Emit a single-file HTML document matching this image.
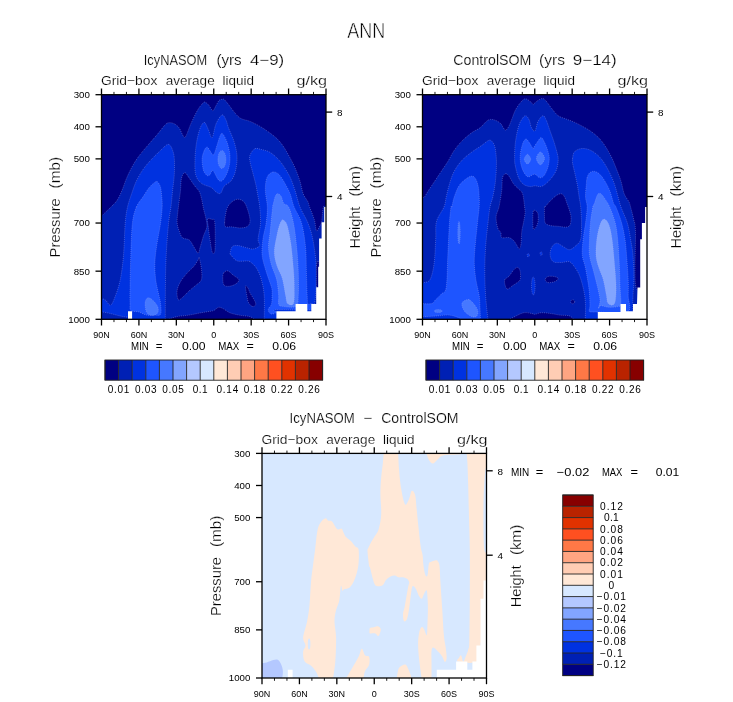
<!DOCTYPE html>
<html><head><meta charset="utf-8"><style>
html,body{margin:0;padding:0;background:#fff;}
svg{display:block;will-change:transform;}
</style></head><body>
<svg width="733" height="702" viewBox="0 0 733 702" font-family="Liberation Sans, sans-serif">
<rect width="733" height="702" fill="#fff"/>
<text x="347.2" y="37.7" font-size="21.2" text-anchor="start" fill="#000" textLength="38" lengthAdjust="spacingAndGlyphs" stroke="#fff" stroke-width="0.55">ANN</text>
<clipPath id="clip0_0"><rect x="101.5" y="94.7" width="224.5" height="224.6"/></clipPath>
<g clip-path="url(#clip0_0)"><g transform="translate(0,0)">
<rect x="100" y="93" width="228" height="228" fill="#000082"/><path d="M101.00,320.00C101.00,320.00 101.00,215.00 101.00,215.00C101.00,215.00 102.07,215.27 102.60,215.00C103.13,214.73 102.80,214.73 104.20,213.40C105.60,212.07 108.85,209.18 111.00,207.00C113.15,204.82 115.28,203.03 117.10,200.30C118.92,197.57 120.28,194.37 121.90,190.60C123.52,186.83 124.92,182.00 126.80,177.70C128.68,173.40 131.07,168.55 133.20,164.80C135.33,161.05 137.18,158.42 139.60,155.20C142.02,151.98 144.73,148.98 147.70,145.50C150.67,142.02 154.45,137.78 157.40,134.30C160.35,130.82 163.40,126.53 165.40,124.60C167.40,122.67 167.92,122.83 169.40,122.70C170.88,122.57 172.68,122.95 174.30,123.80C175.92,124.65 177.77,126.05 179.10,127.80C180.43,129.55 181.37,132.68 182.30,134.30C183.23,135.92 183.90,137.65 184.70,137.50C185.50,137.35 186.02,135.82 187.10,133.40C188.18,130.98 189.45,126.88 191.20,123.00C192.95,119.12 195.73,113.32 197.60,110.10C199.47,106.88 201.17,105.03 202.40,103.70C203.63,102.37 203.92,101.83 205.00,102.10C206.08,102.37 207.60,103.87 208.90,105.30C210.20,106.73 211.58,110.70 212.80,110.70C214.02,110.70 215.17,107.00 216.20,105.30C217.23,103.60 218.03,101.50 219.00,100.50C219.97,99.50 221.12,99.45 222.00,99.30C222.88,99.15 223.12,98.60 224.30,99.60C225.48,100.60 227.50,103.28 229.10,105.30C230.70,107.32 232.02,109.55 233.90,111.70C235.78,113.85 237.72,116.58 240.40,118.20C243.08,119.82 246.78,120.07 250.00,121.40C253.22,122.73 256.47,124.33 259.70,126.20C262.93,128.07 266.45,130.45 269.40,132.60C272.35,134.75 275.00,136.68 277.40,139.10C279.80,141.52 281.65,143.88 283.80,147.10C285.95,150.32 288.42,154.92 290.30,158.40C292.18,161.88 293.50,164.25 295.10,168.00C296.70,171.75 298.55,176.60 299.90,180.90C301.25,185.20 301.85,190.30 303.20,193.80C304.55,197.30 306.93,199.70 308.00,201.90C309.07,204.10 308.53,204.00 309.60,207.00C310.67,210.00 313.25,215.93 314.40,219.90C315.55,223.87 315.58,229.85 316.50,230.80C317.42,231.75 319.05,227.03 319.90,225.60C320.75,224.17 321.02,225.30 321.60,222.20C322.18,219.10 322.50,209.53 323.40,207.00C324.30,204.47 327.00,207.00 327.00,207.00C327.00,207.00 327.00,320.00 327.00,320.00C327.00,320.00 101.00,320.00 101.00,320.00Z" fill="#0020b4" stroke="#b4b4f0" stroke-opacity="0.5" stroke-width="0.7" stroke-dasharray="1 1.1"/>
<path d="M184.90,172.70C186.20,172.70 187.65,175.98 189.30,178.20C190.95,180.42 193.15,183.78 194.80,186.00C196.45,188.22 198.10,189.48 199.20,191.50C200.30,193.52 200.67,195.17 201.40,198.10C202.13,201.03 202.87,205.78 203.60,209.10C204.33,212.42 205.25,215.05 205.80,218.00C206.35,220.95 207.27,223.87 206.90,226.80C206.53,229.73 204.70,232.30 203.60,235.60C202.50,238.90 201.22,243.67 200.30,246.60C199.38,249.53 199.20,253.20 198.10,253.20C197.00,253.20 195.17,248.80 193.70,246.60C192.23,244.40 191.15,241.47 189.30,240.00C187.45,238.53 184.27,239.27 182.60,237.80C180.93,236.33 180.22,233.77 179.30,231.20C178.38,228.63 177.28,226.08 177.10,222.40C176.92,218.72 177.65,214.25 178.20,209.10C178.75,203.95 179.85,196.65 180.40,191.50C180.95,186.35 180.75,181.33 181.50,178.20C182.25,175.07 183.60,172.70 184.90,172.70Z" fill="#000082" stroke="#b4b4f0" stroke-opacity="0.5" stroke-width="0.7" stroke-dasharray="1 1.1"/>
<path d="M207.60,219.00C208.22,217.73 210.83,219.07 212.00,219.40C213.17,219.73 214.07,218.23 214.60,221.00C215.13,223.77 215.17,230.92 215.20,236.00C215.23,241.08 215.30,248.83 214.80,251.50C214.30,254.17 213.03,254.25 212.20,252.00C211.37,249.75 210.45,242.17 209.80,238.00C209.15,233.83 208.67,230.17 208.30,227.00C207.93,223.83 206.98,220.27 207.60,219.00Z" fill="#000082" stroke="#b4b4f0" stroke-opacity="0.5" stroke-width="0.7" stroke-dasharray="1 1.1"/>
<path d="M199.20,257.70C199.75,259.17 201.03,265.03 201.40,268.70C201.77,272.37 202.32,276.95 201.40,279.70C200.48,282.45 197.92,283.37 195.90,285.20C193.88,287.03 191.52,288.67 189.30,290.70C187.08,292.73 184.45,295.92 182.60,297.40C180.75,298.88 179.12,300.72 178.20,299.60C177.28,298.48 176.73,293.65 177.10,290.70C177.47,287.75 178.73,284.83 180.40,281.90C182.07,278.97 184.88,275.67 187.10,273.10C189.32,270.53 191.87,268.70 193.70,266.50C195.53,264.30 197.18,261.37 198.10,259.90C199.02,258.43 198.65,256.23 199.20,257.70Z" fill="#000082" stroke="#b4b4f0" stroke-opacity="0.5" stroke-width="0.7" stroke-dasharray="1 1.1"/>
<path d="M224.60,222.40C224.78,219.45 225.70,212.42 226.80,209.10C227.90,205.78 229.37,204.15 231.20,202.50C233.03,200.85 235.60,199.20 237.80,199.20C240.00,199.20 242.57,200.12 244.40,202.50C246.23,204.88 247.88,210.18 248.80,213.50C249.72,216.82 250.27,220.18 249.90,222.40C249.53,224.62 248.25,225.88 246.60,226.80C244.95,227.72 242.57,227.90 240.00,227.90C237.43,227.90 233.58,226.98 231.20,226.80C228.82,226.62 226.80,227.53 225.70,226.80C224.60,226.07 224.42,225.35 224.60,222.40Z" fill="#000082" stroke="#b4b4f0" stroke-opacity="0.5" stroke-width="0.7" stroke-dasharray="1 1.1"/>
<path d="M223.50,273.10C224.35,271.63 226.25,270.53 227.90,270.90C229.55,271.27 231.57,273.83 233.40,275.30C235.23,276.77 238.53,278.23 238.90,279.70C239.27,281.17 237.25,283.00 235.60,284.10C233.95,285.20 230.92,286.12 229.00,286.30C227.08,286.48 225.13,286.30 224.10,285.20C223.07,284.10 222.90,281.72 222.80,279.70C222.70,277.68 222.65,274.57 223.50,273.10Z" fill="#000082" stroke="#b4b4f0" stroke-opacity="0.5" stroke-width="0.7" stroke-dasharray="1 1.1"/>
<path d="M245.50,286.30C245.67,284.92 247.23,286.87 248.00,288.00C248.77,289.13 248.97,290.93 250.10,293.10C251.23,295.27 253.88,299.03 254.80,301.00C255.72,302.97 256.00,303.98 255.60,304.90C255.20,305.82 253.58,306.88 252.40,306.50C251.22,306.12 249.40,304.30 248.50,302.60C247.60,300.90 247.50,299.02 247.00,296.30C246.50,293.58 245.33,287.68 245.50,286.30Z" fill="#000082" stroke="#b4b4f0" stroke-opacity="0.5" stroke-width="0.7" stroke-dasharray="1 1.1"/>
<path d="M316.30,266.00C316.75,263.17 318.30,258.47 318.70,262.00C319.10,265.53 319.05,283.00 318.70,287.20C318.35,291.40 317.05,288.57 316.60,287.20C316.15,285.83 316.05,282.53 316.00,279.00C315.95,275.47 315.85,268.83 316.30,266.00Z" fill="#000082" stroke="#b4b4f0" stroke-opacity="0.5" stroke-width="0.7" stroke-dasharray="1 1.1"/>
<path d="M166.90,320.00C166.90,320.00 172.63,317.52 176.30,316.70C179.97,315.88 184.72,315.77 188.90,315.10C193.08,314.43 197.75,313.35 201.40,312.70C205.05,312.05 208.70,311.58 210.80,311.20C212.90,310.82 212.68,311.05 214.00,310.40C215.32,309.75 217.13,307.57 218.70,307.30C220.27,307.03 221.57,307.90 223.40,308.80C225.23,309.70 227.08,311.65 229.70,312.70C232.32,313.75 235.70,314.43 239.10,315.10C242.50,315.77 247.48,315.88 250.10,316.70C252.72,317.52 254.80,320.00 254.80,320.00C254.80,320.00 166.90,320.00 166.90,320.00Z" fill="#000082" stroke="#b4b4f0" stroke-opacity="0.5" stroke-width="0.7" stroke-dasharray="1 1.1"/>
<path d="M101.00,299.00C101.00,299.00 101.80,298.57 102.60,298.80C103.40,299.03 104.45,299.33 105.80,300.40C107.15,301.47 109.08,306.00 110.70,305.20C112.32,304.40 113.90,299.88 115.50,295.60C117.10,291.32 118.97,286.22 120.30,279.50C121.63,272.78 122.68,264.70 123.50,255.30C124.32,245.90 124.53,231.15 125.20,223.10C125.87,215.05 126.43,211.88 127.50,207.00C128.57,202.12 130.12,198.15 131.60,193.80C133.08,189.45 134.52,184.92 136.40,180.90C138.28,176.88 140.48,173.18 142.90,169.70C145.32,166.22 147.95,163.23 150.90,160.00C153.85,156.77 157.92,152.85 160.60,150.30C163.28,147.75 165.40,145.50 167.00,144.70C168.60,143.90 169.27,144.57 170.20,145.50C171.13,146.43 171.92,148.15 172.60,150.30C173.28,152.45 174.02,154.37 174.30,158.40C174.58,162.43 174.58,169.13 174.30,174.50C174.02,179.87 173.15,185.23 172.60,190.60C172.05,195.97 171.67,201.28 171.00,206.70C170.33,212.12 169.40,215.00 168.60,223.10C167.80,231.20 166.73,244.57 166.20,255.30C165.67,266.03 165.55,276.72 165.40,287.50C165.25,298.28 165.30,320.00 165.30,320.00C165.30,320.00 130.80,320.00 130.80,320.00C130.80,320.00 130.33,318.18 128.50,317.50C126.67,316.82 122.82,316.57 119.80,315.90C116.78,315.23 113.27,314.15 110.40,313.50C107.53,312.85 104.17,312.25 102.60,312.00C101.03,311.75 101.00,312.00 101.00,312.00C101.00,312.00 101.00,299.00 101.00,299.00Z" fill="#0032e0" stroke="#b4b4f0" stroke-opacity="0.5" stroke-width="0.7" stroke-dasharray="1 1.1"/>
<path d="M205.00,122.80C206.07,123.77 207.32,127.52 208.50,130.00C209.68,132.48 210.85,138.70 212.10,137.70C213.35,136.70 214.35,127.78 216.00,124.00C217.65,120.22 220.33,115.67 222.00,115.00C223.67,114.33 224.92,117.87 226.00,120.00C227.08,122.13 227.13,124.13 228.50,127.80C229.87,131.47 232.78,137.25 234.20,142.00C235.62,146.75 236.77,151.55 237.00,156.30C237.23,161.05 236.55,166.47 235.60,170.50C234.65,174.53 233.20,177.88 231.30,180.50C229.40,183.12 225.98,184.07 224.20,186.20C222.42,188.33 221.97,192.33 220.60,193.30C219.23,194.27 217.53,192.95 216.00,192.00C214.47,191.05 213.83,189.05 211.40,187.60C208.97,186.15 204.02,185.43 201.40,183.30C198.78,181.17 196.77,178.83 195.70,174.80C194.63,170.77 194.88,164.33 195.00,159.10C195.12,153.87 195.68,148.15 196.40,143.40C197.12,138.65 198.35,133.80 199.30,130.60C200.25,127.40 201.15,125.50 202.10,124.20C203.05,122.90 203.93,121.83 205.00,122.80Z" fill="#0032e0" stroke="#b4b4f0" stroke-opacity="0.5" stroke-width="0.7" stroke-dasharray="1 1.1"/>
<path d="M254.90,148.70C256.78,147.75 258.88,148.95 261.30,149.50C263.72,150.05 266.72,150.52 269.40,152.00C272.08,153.48 275.00,156.00 277.40,158.40C279.80,160.80 281.65,163.18 283.80,166.40C285.95,169.62 288.42,173.67 290.30,177.70C292.18,181.73 293.48,185.72 295.10,190.60C296.72,195.48 297.85,201.58 300.00,207.00C302.15,212.42 305.87,217.73 308.00,223.10C310.13,228.47 311.47,232.48 312.80,239.20C314.13,245.92 315.47,255.35 316.00,263.40C316.53,271.45 316.27,280.80 316.00,287.50C315.73,294.20 315.18,300.85 314.40,303.60C313.62,306.35 311.82,301.27 311.30,304.00C310.78,306.73 311.30,320.00 311.30,320.00C311.30,320.00 264.20,320.00 264.20,320.00C264.20,320.00 264.68,302.35 264.20,295.60C263.72,288.85 262.58,284.07 261.30,279.50C260.02,274.93 258.38,271.17 256.50,268.20C254.62,265.23 251.65,262.90 250.00,261.70C248.35,260.50 248.73,261.13 246.60,261.00C244.47,260.87 239.77,261.83 237.20,260.90C234.63,259.97 232.38,256.68 231.20,255.40C230.02,254.12 229.92,254.67 230.10,253.20C230.28,251.73 231.02,247.88 232.30,246.60C233.58,245.32 235.42,245.32 237.80,245.50C240.18,245.68 244.02,247.13 246.60,247.70C249.18,248.27 251.12,249.25 253.30,248.90C255.48,248.55 258.90,247.22 259.70,245.60C260.50,243.98 257.97,242.95 258.10,239.20C258.23,235.45 260.23,228.47 260.50,223.10C260.77,217.73 260.10,211.35 259.70,207.00C259.30,202.65 258.77,200.80 258.10,197.00C257.43,193.20 256.65,188.48 255.70,184.20C254.75,179.92 253.35,175.07 252.40,171.30C251.45,167.53 250.40,164.28 250.00,161.60C249.60,158.92 249.18,157.35 250.00,155.20C250.82,153.05 253.02,149.65 254.90,148.70Z" fill="#0032e0" stroke="#b4b4f0" stroke-opacity="0.5" stroke-width="0.7" stroke-dasharray="1 1.1"/>
<path d="M136.40,207.00C138.15,202.65 140.75,200.27 142.90,197.00C145.05,193.73 147.17,189.95 149.30,187.40C151.43,184.85 154.23,182.52 155.70,181.70C157.17,180.88 157.28,181.55 158.10,182.50C158.92,183.45 159.98,184.98 160.60,187.40C161.22,189.82 161.53,193.73 161.80,197.00C162.07,200.27 162.40,202.65 162.20,207.00C162.00,211.35 161.55,216.38 160.60,223.10C159.65,229.82 157.45,240.58 156.50,247.30C155.55,254.02 155.03,258.03 154.90,263.40C154.77,268.77 155.02,274.13 155.70,279.50C156.38,284.87 158.18,291.58 159.00,295.60C159.82,299.62 160.33,300.48 160.60,303.60C160.87,306.72 161.65,312.38 160.60,314.30C159.55,316.22 156.65,314.97 154.30,315.10C151.95,315.23 149.10,315.62 146.50,315.10C143.90,314.58 141.32,312.78 138.70,312.00C136.08,311.22 132.25,311.80 130.80,310.40C129.35,309.00 130.13,307.42 130.00,303.60C129.87,299.78 129.87,295.55 130.00,287.50C130.13,279.45 130.40,266.03 130.80,255.30C131.20,244.57 131.47,231.15 132.40,223.10C133.33,215.05 134.65,211.35 136.40,207.00Z" fill="#1e55ff" stroke="#b4b4f0" stroke-opacity="0.5" stroke-width="0.7" stroke-dasharray="1 1.1"/>
<path d="M222.50,133.70C223.68,134.65 225.77,138.48 227.00,142.00C228.23,145.52 229.53,150.77 229.90,154.80C230.27,158.83 229.92,162.63 229.20,166.20C228.48,169.77 226.92,173.70 225.60,176.20C224.28,178.70 222.60,180.73 221.30,181.20C220.00,181.67 219.22,180.78 217.80,179.00C216.38,177.22 214.12,171.20 212.80,170.50C211.48,169.80 210.85,173.97 209.90,174.80C208.95,175.63 208.17,176.22 207.10,175.50C206.03,174.78 204.33,173.23 203.50,170.50C202.67,167.77 201.98,162.42 202.10,159.10C202.22,155.78 203.37,152.62 204.20,150.60C205.03,148.58 206.15,147.00 207.10,147.00C208.05,147.00 208.83,149.30 209.90,150.60C210.97,151.90 212.30,155.75 213.50,154.80C214.70,153.85 216.03,147.98 217.10,144.90C218.17,141.82 219.00,138.17 219.90,136.30C220.80,134.43 221.32,132.75 222.50,133.70Z" fill="#1e55ff" stroke="#b4b4f0" stroke-opacity="0.5" stroke-width="0.7" stroke-dasharray="1 1.1"/>
<path d="M272.60,172.10C274.62,171.57 276.87,172.48 279.00,174.50C281.13,176.52 283.52,180.92 285.40,184.20C287.28,187.48 288.87,190.45 290.30,194.20C291.73,197.95 292.12,201.88 294.00,206.70C295.88,211.52 299.67,216.33 301.60,223.10C303.53,229.87 304.80,239.25 305.60,247.30C306.40,255.35 306.13,263.35 306.40,271.40C306.67,279.45 306.93,290.17 307.20,295.60C307.47,301.03 307.32,302.60 308.00,304.00C308.68,305.40 310.75,303.07 311.30,304.00C311.85,304.93 317.12,308.67 311.30,309.60C305.48,310.53 282.22,309.12 276.40,309.60C270.58,310.08 277.30,311.77 276.40,312.50C275.50,313.23 272.37,314.48 271.00,314.00C269.63,313.52 268.12,311.27 268.20,309.60C268.28,307.93 270.87,306.43 271.50,304.00C272.13,301.57 272.00,297.75 272.00,295.00C272.00,292.25 272.48,291.43 271.50,287.50C270.52,283.57 267.67,276.77 266.10,271.40C264.53,266.03 262.63,260.67 262.10,255.30C261.57,249.93 262.23,244.57 262.90,239.20C263.57,233.83 265.37,228.47 266.10,223.10C266.83,217.73 267.43,212.42 267.30,207.00C267.17,201.58 265.37,195.48 265.30,190.60C265.23,185.72 265.68,180.78 266.90,177.70C268.12,174.62 270.58,172.63 272.60,172.10Z" fill="#1e55ff" stroke="#b4b4f0" stroke-opacity="0.5" stroke-width="0.7" stroke-dasharray="1 1.1"/>
<path d="M147.50,298.00C148.33,297.58 149.33,297.83 150.50,298.50C151.67,299.17 153.28,300.58 154.50,302.00C155.72,303.42 157.22,305.33 157.80,307.00C158.38,308.67 158.47,310.67 158.00,312.00C157.53,313.33 156.33,314.50 155.00,315.00C153.67,315.50 151.42,315.50 150.00,315.00C148.58,314.50 147.30,313.50 146.50,312.00C145.70,310.50 145.37,307.83 145.20,306.00C145.03,304.17 145.12,302.33 145.50,301.00C145.88,299.67 146.67,298.42 147.50,298.00Z" fill="#4678ff" stroke="#b4b4f0" stroke-opacity="0.5" stroke-width="0.7" stroke-dasharray="1 1.1"/>
<path d="M277.40,193.80C278.40,193.63 279.93,194.38 281.00,196.00C282.07,197.62 282.52,201.67 283.80,203.50C285.08,205.33 287.08,203.73 288.70,207.00C290.32,210.27 292.17,216.38 293.50,223.10C294.83,229.82 295.90,239.25 296.70,247.30C297.50,255.35 298.03,263.35 298.30,271.40C298.57,279.45 298.68,289.78 298.30,295.60C297.92,301.42 298.72,304.52 296.00,306.30C293.28,308.08 284.90,306.68 282.00,306.30C279.10,305.92 279.17,305.78 278.60,304.00C278.03,302.22 278.93,299.68 278.60,295.60C278.27,291.52 277.87,284.87 276.60,279.50C275.33,274.13 272.35,268.77 271.00,263.40C269.65,258.03 268.63,252.68 268.50,247.30C268.37,241.92 269.52,237.82 270.20,231.10C270.88,224.38 272.07,211.60 272.60,207.00C273.13,202.40 273.00,205.17 273.40,203.50C273.80,201.83 274.33,198.62 275.00,197.00C275.67,195.38 276.40,193.97 277.40,193.80Z" fill="#4678ff" stroke="#b4b4f0" stroke-opacity="0.5" stroke-width="0.7" stroke-dasharray="1 1.1"/>
<ellipse cx="221.9" cy="159.5" rx="4" ry="9" fill="#4678ff" stroke="#b4b4f0" stroke-opacity="0.5" stroke-width="0.7" stroke-dasharray="1 1.1"/>
<path d="M282.20,220.00C283.12,219.42 284.13,220.50 285.00,221.50C285.87,222.50 286.42,222.35 287.40,226.00C288.38,229.65 289.88,236.15 290.90,243.40C291.92,250.65 292.93,262.25 293.50,269.50C294.07,276.75 294.30,281.25 294.30,286.90C294.30,292.55 294.65,300.65 293.50,303.40C292.35,306.15 288.72,304.70 287.40,303.40C286.08,302.10 286.47,299.80 285.60,295.60C284.73,291.40 283.63,283.13 282.20,278.20C280.77,273.27 278.32,270.35 277.00,266.00C275.68,261.65 274.30,257.30 274.30,252.10C274.30,246.90 276.13,239.32 277.00,234.80C277.87,230.28 278.63,227.47 279.50,225.00C280.37,222.53 281.28,220.58 282.20,220.00Z" fill="#82a5ff" stroke="#b4b4f0" stroke-opacity="0.5" stroke-width="0.7" stroke-dasharray="1 1.1"/>
<polygon points="324.2,207 327,207 327,320 276.4,320 276.4,311.2 295.6,311.2 295.6,304.1 307.3,304.1 307.3,311.2 311.3,311.2 311.3,304.1 316.2,304.1 316.2,287.2 318.2,287.2 318.2,266.7 319.1,266.7 319.1,238.5 321.6,238.5 321.6,222.2 324.2,222.2" fill="#fff"/>
<polygon points="128,311.2 132.1,311.2 132.1,320 128,320" fill="#fff"/>
</g></g>
<rect x="101.5" y="94.7" width="224.5" height="224.6" fill="none" stroke="#000" stroke-width="1.3"/>
<line x1="101.50" y1="319.3" x2="101.50" y2="325.5" stroke="#000" stroke-width="1.3"/>
<line x1="101.50" y1="94.7" x2="101.50" y2="88.5" stroke="#000" stroke-width="1.3"/>
<line x1="113.97" y1="319.3" x2="113.97" y2="322.1" stroke="#000" stroke-width="0.9"/>
<line x1="113.97" y1="94.7" x2="113.97" y2="91.9" stroke="#000" stroke-width="0.9"/>
<line x1="126.44" y1="319.3" x2="126.44" y2="322.1" stroke="#000" stroke-width="0.9"/>
<line x1="126.44" y1="94.7" x2="126.44" y2="91.9" stroke="#000" stroke-width="0.9"/>
<line x1="138.92" y1="319.3" x2="138.92" y2="325.5" stroke="#000" stroke-width="1.3"/>
<line x1="138.92" y1="94.7" x2="138.92" y2="88.5" stroke="#000" stroke-width="1.3"/>
<line x1="151.39" y1="319.3" x2="151.39" y2="322.1" stroke="#000" stroke-width="0.9"/>
<line x1="151.39" y1="94.7" x2="151.39" y2="91.9" stroke="#000" stroke-width="0.9"/>
<line x1="163.86" y1="319.3" x2="163.86" y2="322.1" stroke="#000" stroke-width="0.9"/>
<line x1="163.86" y1="94.7" x2="163.86" y2="91.9" stroke="#000" stroke-width="0.9"/>
<line x1="176.33" y1="319.3" x2="176.33" y2="325.5" stroke="#000" stroke-width="1.3"/>
<line x1="176.33" y1="94.7" x2="176.33" y2="88.5" stroke="#000" stroke-width="1.3"/>
<line x1="188.81" y1="319.3" x2="188.81" y2="322.1" stroke="#000" stroke-width="0.9"/>
<line x1="188.81" y1="94.7" x2="188.81" y2="91.9" stroke="#000" stroke-width="0.9"/>
<line x1="201.28" y1="319.3" x2="201.28" y2="322.1" stroke="#000" stroke-width="0.9"/>
<line x1="201.28" y1="94.7" x2="201.28" y2="91.9" stroke="#000" stroke-width="0.9"/>
<line x1="213.75" y1="319.3" x2="213.75" y2="325.5" stroke="#000" stroke-width="1.3"/>
<line x1="213.75" y1="94.7" x2="213.75" y2="88.5" stroke="#000" stroke-width="1.3"/>
<line x1="226.22" y1="319.3" x2="226.22" y2="322.1" stroke="#000" stroke-width="0.9"/>
<line x1="226.22" y1="94.7" x2="226.22" y2="91.9" stroke="#000" stroke-width="0.9"/>
<line x1="238.69" y1="319.3" x2="238.69" y2="322.1" stroke="#000" stroke-width="0.9"/>
<line x1="238.69" y1="94.7" x2="238.69" y2="91.9" stroke="#000" stroke-width="0.9"/>
<line x1="251.17" y1="319.3" x2="251.17" y2="325.5" stroke="#000" stroke-width="1.3"/>
<line x1="251.17" y1="94.7" x2="251.17" y2="88.5" stroke="#000" stroke-width="1.3"/>
<line x1="263.64" y1="319.3" x2="263.64" y2="322.1" stroke="#000" stroke-width="0.9"/>
<line x1="263.64" y1="94.7" x2="263.64" y2="91.9" stroke="#000" stroke-width="0.9"/>
<line x1="276.11" y1="319.3" x2="276.11" y2="322.1" stroke="#000" stroke-width="0.9"/>
<line x1="276.11" y1="94.7" x2="276.11" y2="91.9" stroke="#000" stroke-width="0.9"/>
<line x1="288.58" y1="319.3" x2="288.58" y2="325.5" stroke="#000" stroke-width="1.3"/>
<line x1="288.58" y1="94.7" x2="288.58" y2="88.5" stroke="#000" stroke-width="1.3"/>
<line x1="301.06" y1="319.3" x2="301.06" y2="322.1" stroke="#000" stroke-width="0.9"/>
<line x1="301.06" y1="94.7" x2="301.06" y2="91.9" stroke="#000" stroke-width="0.9"/>
<line x1="313.53" y1="319.3" x2="313.53" y2="322.1" stroke="#000" stroke-width="0.9"/>
<line x1="313.53" y1="94.7" x2="313.53" y2="91.9" stroke="#000" stroke-width="0.9"/>
<line x1="326.00" y1="319.3" x2="326.00" y2="325.5" stroke="#000" stroke-width="1.3"/>
<line x1="326.00" y1="94.7" x2="326.00" y2="88.5" stroke="#000" stroke-width="1.3"/>
<line x1="95.5" y1="94.70" x2="101.5" y2="94.70" stroke="#000" stroke-width="1.3"/>
<line x1="95.5" y1="126.79" x2="101.5" y2="126.79" stroke="#000" stroke-width="1.3"/>
<line x1="95.5" y1="158.87" x2="101.5" y2="158.87" stroke="#000" stroke-width="1.3"/>
<line x1="95.5" y1="223.04" x2="101.5" y2="223.04" stroke="#000" stroke-width="1.3"/>
<line x1="95.5" y1="271.17" x2="101.5" y2="271.17" stroke="#000" stroke-width="1.3"/>
<line x1="95.5" y1="319.30" x2="101.5" y2="319.30" stroke="#000" stroke-width="1.3"/>
<line x1="326.0" y1="112.10" x2="332.2" y2="112.10" stroke="#000" stroke-width="1.3"/>
<line x1="326.0" y1="196.50" x2="332.2" y2="196.50" stroke="#000" stroke-width="1.3"/>
<text x="89.9" y="98.1" font-size="9.7" text-anchor="end" fill="#000">300</text>
<text x="89.9" y="130.19" font-size="9.7" text-anchor="end" fill="#000">400</text>
<text x="89.9" y="162.27" font-size="9.7" text-anchor="end" fill="#000">500</text>
<text x="89.9" y="226.44" font-size="9.7" text-anchor="end" fill="#000">700</text>
<text x="89.9" y="274.57" font-size="9.7" text-anchor="end" fill="#000">850</text>
<text x="89.9" y="322.7" font-size="9.7" text-anchor="end" fill="#000">1000</text>
<text x="101.5" y="338.1" font-size="9.0" text-anchor="middle" fill="#000">90N</text>
<text x="138.92" y="338.1" font-size="9.0" text-anchor="middle" fill="#000">60N</text>
<text x="176.33" y="338.1" font-size="9.0" text-anchor="middle" fill="#000">30N</text>
<text x="213.75" y="338.1" font-size="9.0" text-anchor="middle" fill="#000">0</text>
<text x="251.17" y="338.1" font-size="9.0" text-anchor="middle" fill="#000">30S</text>
<text x="288.58" y="338.1" font-size="9.0" text-anchor="middle" fill="#000">60S</text>
<text x="326.0" y="338.1" font-size="9.0" text-anchor="middle" fill="#000">90S</text>
<text x="337.0" y="116.0" font-size="9.9" text-anchor="start" fill="#000">8</text>
<text x="337.0" y="199.8" font-size="9.9" text-anchor="start" fill="#000">4</text>
<text x="0" y="0" font-size="14.8" fill="#000" stroke="#fff" stroke-width="0.25" textLength="59.2" lengthAdjust="spacingAndGlyphs" transform="translate(60.10,257.40) rotate(-90)">Pressure</text>
<text x="0" y="0" font-size="14.8" fill="#000" stroke="#fff" stroke-width="0.25" textLength="31.4" lengthAdjust="spacingAndGlyphs" transform="translate(60.10,188.40) rotate(-90)">(mb)</text>
<text x="0" y="0" font-size="14.8" fill="#000" stroke="#fff" stroke-width="0.25" textLength="41.9" lengthAdjust="spacingAndGlyphs" transform="translate(360.30,248.50) rotate(-90)">Height</text>
<text x="0" y="0" font-size="14.8" fill="#000" stroke="#fff" stroke-width="0.25" textLength="30.5" lengthAdjust="spacingAndGlyphs" transform="translate(360.30,196.40) rotate(-90)">(km)</text>
<text x="143.8" y="64.6" font-size="14.5" text-anchor="start" fill="#000" textLength="63.4" lengthAdjust="spacingAndGlyphs" stroke="#fff" stroke-width="0.2">IcyNASOM</text>
<text x="216.4" y="64.6" font-size="14.5" text-anchor="start" fill="#000" textLength="25.3" lengthAdjust="spacingAndGlyphs" stroke="#fff" stroke-width="0.2">(yrs</text>
<text x="250.0" y="64.6" font-size="14.5" text-anchor="start" fill="#000" textLength="34.2" lengthAdjust="spacingAndGlyphs" stroke="#fff" stroke-width="0.2">4&#8722;9)</text>
<text x="100.9" y="85.2" font-size="13.0" text-anchor="start" fill="#000" textLength="56.5" lengthAdjust="spacingAndGlyphs" stroke="#fff" stroke-width="0.2">Grid&#8722;box</text>
<text x="165.7" y="85.2" font-size="13.0" text-anchor="start" fill="#000" textLength="49.0" lengthAdjust="spacingAndGlyphs" stroke="#fff" stroke-width="0.2">average</text>
<text x="222.5" y="85.2" font-size="13.0" text-anchor="start" fill="#000" textLength="31.5" lengthAdjust="spacingAndGlyphs" stroke="#fff" stroke-width="0.2">liquid</text>
<text x="296.5" y="85.2" font-size="13.0" text-anchor="start" fill="#000" textLength="30.5" lengthAdjust="spacingAndGlyphs" stroke="#fff" stroke-width="0.2">g/kg</text>
<text x="421.9" y="85.2" font-size="13.0" text-anchor="start" fill="#000" textLength="56.5" lengthAdjust="spacingAndGlyphs" stroke="#fff" stroke-width="0.2">Grid&#8722;box</text>
<text x="486.7" y="85.2" font-size="13.0" text-anchor="start" fill="#000" textLength="49.0" lengthAdjust="spacingAndGlyphs" stroke="#fff" stroke-width="0.2">average</text>
<text x="543.5" y="85.2" font-size="13.0" text-anchor="start" fill="#000" textLength="31.5" lengthAdjust="spacingAndGlyphs" stroke="#fff" stroke-width="0.2">liquid</text>
<text x="617.5" y="85.2" font-size="13.0" text-anchor="start" fill="#000" textLength="30.5" lengthAdjust="spacingAndGlyphs" stroke="#fff" stroke-width="0.2">g/kg</text>
<text x="261.4" y="443.9" font-size="13.0" text-anchor="start" fill="#000" textLength="56.5" lengthAdjust="spacingAndGlyphs" stroke="#fff" stroke-width="0.2">Grid&#8722;box</text>
<text x="326.2" y="443.9" font-size="13.0" text-anchor="start" fill="#000" textLength="49.0" lengthAdjust="spacingAndGlyphs" stroke="#fff" stroke-width="0.2">average</text>
<text x="383.0" y="443.9" font-size="13.0" text-anchor="start" fill="#000" textLength="31.5" lengthAdjust="spacingAndGlyphs" stroke="#fff" stroke-width="0.2">liquid</text>
<text x="457.0" y="443.9" font-size="13.0" text-anchor="start" fill="#000" textLength="30.5" lengthAdjust="spacingAndGlyphs" stroke="#fff" stroke-width="0.2">g/kg</text>
<rect x="105.00" y="360" width="13.60" height="20.2" fill="#000082"/>
<rect x="118.60" y="360" width="13.60" height="20.2" fill="#0020b4"/>
<rect x="132.20" y="360" width="13.60" height="20.2" fill="#0032e0"/>
<rect x="145.80" y="360" width="13.60" height="20.2" fill="#1e55ff"/>
<rect x="159.40" y="360" width="13.60" height="20.2" fill="#4678ff"/>
<rect x="173.00" y="360" width="13.60" height="20.2" fill="#82a5ff"/>
<rect x="186.60" y="360" width="13.60" height="20.2" fill="#b4c8ff"/>
<rect x="200.20" y="360" width="13.60" height="20.2" fill="#d7e8ff"/>
<rect x="213.80" y="360" width="13.60" height="20.2" fill="#ffe8d7"/>
<rect x="227.40" y="360" width="13.60" height="20.2" fill="#ffcdb4"/>
<rect x="241.00" y="360" width="13.60" height="20.2" fill="#ffa582"/>
<rect x="254.60" y="360" width="13.60" height="20.2" fill="#ff7846"/>
<rect x="268.20" y="360" width="13.60" height="20.2" fill="#ff5020"/>
<rect x="281.80" y="360" width="13.60" height="20.2" fill="#e13200"/>
<rect x="295.40" y="360" width="13.60" height="20.2" fill="#b92300"/>
<rect x="309.00" y="360" width="13.60" height="20.2" fill="#870000"/>
<line x1="105.00" y1="360" x2="105.00" y2="380.2" stroke="#222" stroke-width="0.9"/>
<line x1="118.60" y1="360" x2="118.60" y2="380.2" stroke="#222" stroke-width="0.9"/>
<line x1="132.20" y1="360" x2="132.20" y2="380.2" stroke="#222" stroke-width="0.9"/>
<line x1="145.80" y1="360" x2="145.80" y2="380.2" stroke="#222" stroke-width="0.9"/>
<line x1="159.40" y1="360" x2="159.40" y2="380.2" stroke="#222" stroke-width="0.9"/>
<line x1="173.00" y1="360" x2="173.00" y2="380.2" stroke="#222" stroke-width="0.9"/>
<line x1="186.60" y1="360" x2="186.60" y2="380.2" stroke="#222" stroke-width="0.9"/>
<line x1="200.20" y1="360" x2="200.20" y2="380.2" stroke="#222" stroke-width="0.9"/>
<line x1="213.80" y1="360" x2="213.80" y2="380.2" stroke="#222" stroke-width="0.9"/>
<line x1="227.40" y1="360" x2="227.40" y2="380.2" stroke="#222" stroke-width="0.9"/>
<line x1="241.00" y1="360" x2="241.00" y2="380.2" stroke="#222" stroke-width="0.9"/>
<line x1="254.60" y1="360" x2="254.60" y2="380.2" stroke="#222" stroke-width="0.9"/>
<line x1="268.20" y1="360" x2="268.20" y2="380.2" stroke="#222" stroke-width="0.9"/>
<line x1="281.80" y1="360" x2="281.80" y2="380.2" stroke="#222" stroke-width="0.9"/>
<line x1="295.40" y1="360" x2="295.40" y2="380.2" stroke="#222" stroke-width="0.9"/>
<line x1="309.00" y1="360" x2="309.00" y2="380.2" stroke="#222" stroke-width="0.9"/>
<line x1="322.60" y1="360" x2="322.60" y2="380.2" stroke="#222" stroke-width="0.9"/>
<rect x="105" y="360" width="217.6" height="20.2" fill="none" stroke="#222" stroke-width="0.9"/>
<text x="118.6" y="393.1" font-size="10.0" text-anchor="middle" fill="#000" textLength="21.6" lengthAdjust="spacing">0.01</text>
<text x="145.8" y="393.1" font-size="10.0" text-anchor="middle" fill="#000" textLength="21.6" lengthAdjust="spacing">0.03</text>
<text x="173.0" y="393.1" font-size="10.0" text-anchor="middle" fill="#000" textLength="21.6" lengthAdjust="spacing">0.05</text>
<text x="200.2" y="393.1" font-size="10.0" text-anchor="middle" fill="#000" textLength="14.8" lengthAdjust="spacing">0.1</text>
<text x="227.4" y="393.1" font-size="10.0" text-anchor="middle" fill="#000" textLength="21.6" lengthAdjust="spacing">0.14</text>
<text x="254.6" y="393.1" font-size="10.0" text-anchor="middle" fill="#000" textLength="21.6" lengthAdjust="spacing">0.18</text>
<text x="281.8" y="393.1" font-size="10.0" text-anchor="middle" fill="#000" textLength="21.6" lengthAdjust="spacing">0.22</text>
<text x="309.0" y="393.1" font-size="10.0" text-anchor="middle" fill="#000" textLength="21.6" lengthAdjust="spacing">0.26</text>
<clipPath id="clip321_0"><rect x="422.5" y="94.7" width="224.5" height="224.6"/></clipPath>
<g clip-path="url(#clip321_0)"><g transform="translate(321,0)">
<rect x="100" y="93" width="228" height="228" fill="#000082"/><path d="M101.00,320.00C101.00,320.00 101.00,197.00 101.00,197.00C101.00,197.00 102.33,198.07 103.40,197.00C104.47,195.93 105.65,193.28 107.40,190.60C109.15,187.92 111.75,184.12 113.90,180.90C116.05,177.68 118.15,174.52 120.30,171.30C122.45,168.08 124.65,165.08 126.80,161.60C128.95,158.12 130.78,153.88 133.20,150.40C135.62,146.92 138.35,143.67 141.30,140.70C144.25,137.73 147.95,134.75 150.90,132.60C153.85,130.45 156.58,129.67 159.00,127.80C161.42,125.93 163.67,122.80 165.40,121.40C167.13,120.00 167.78,119.53 169.40,119.40C171.02,119.27 173.35,119.87 175.10,120.60C176.85,121.33 178.70,122.60 179.90,123.80C181.10,125.00 181.50,126.73 182.30,127.80C183.10,128.87 183.77,130.47 184.70,130.20C185.63,129.93 186.82,128.20 187.90,126.20C188.98,124.20 190.12,120.88 191.20,118.20C192.28,115.52 193.07,112.65 194.40,110.10C195.73,107.55 197.60,104.78 199.20,102.90C200.80,101.02 202.38,99.08 204.00,98.80C205.62,98.52 207.55,100.25 208.90,101.20C210.25,102.15 211.42,104.08 212.10,104.50C212.78,104.92 212.18,104.38 213.00,103.70C213.82,103.02 215.52,101.27 217.00,100.40C218.48,99.53 220.42,98.23 221.90,98.50C223.38,98.77 224.43,100.33 225.90,102.00C227.37,103.67 228.82,106.22 230.70,108.50C232.58,110.78 234.78,113.95 237.20,115.70C239.62,117.45 242.52,117.92 245.20,119.00C247.88,120.08 250.62,121.00 253.30,122.20C255.98,123.40 258.62,124.73 261.30,126.20C263.98,127.67 266.72,129.12 269.40,131.00C272.08,132.88 275.00,135.08 277.40,137.50C279.80,139.92 281.65,142.28 283.80,145.50C285.95,148.72 288.42,153.03 290.30,156.80C292.18,160.57 293.50,164.08 295.10,168.10C296.70,172.12 298.55,176.62 299.90,180.90C301.25,185.18 301.85,190.30 303.20,193.80C304.55,197.30 306.93,199.70 308.00,201.90C309.07,204.10 308.80,204.00 309.60,207.00C310.40,210.00 311.98,215.73 312.80,219.90C313.62,224.07 314.15,220.82 314.50,232.00C314.85,243.18 312.82,277.83 314.90,287.00C316.98,296.17 327.00,287.00 327.00,287.00C327.00,287.00 327.00,320.00 327.00,320.00C327.00,320.00 101.00,320.00 101.00,320.00Z" fill="#0020b4" stroke="#b4b4f0" stroke-opacity="0.5" stroke-width="0.7" stroke-dasharray="1 1.1"/>
<path d="M184.70,173.70C185.77,173.43 186.55,174.35 187.90,176.10C189.25,177.85 191.18,182.05 192.80,184.20C194.42,186.35 196.13,187.40 197.60,189.00C199.07,190.60 200.60,190.80 201.60,193.80C202.60,196.80 203.20,203.73 203.60,207.00C204.00,210.27 204.20,210.72 204.00,213.40C203.80,216.08 202.93,220.13 202.40,223.10C201.87,226.07 201.20,227.72 200.80,231.20C200.40,234.68 200.40,241.05 200.00,244.00C199.60,246.95 199.07,248.63 198.40,248.90C197.73,249.17 196.93,246.95 196.00,245.60C195.07,244.25 194.15,242.13 192.80,240.80C191.45,239.47 189.92,238.13 187.90,237.60C185.88,237.07 182.03,238.40 180.70,237.60C179.37,236.80 180.57,234.42 179.90,232.80C179.23,231.18 177.50,230.58 176.70,227.90C175.90,225.22 174.88,220.18 175.10,216.70C175.32,213.22 177.07,211.35 178.00,207.00C178.93,202.65 180.12,195.48 180.70,190.60C181.28,185.72 180.83,180.52 181.50,177.70C182.17,174.88 183.63,173.97 184.70,173.70Z" fill="#000082" stroke="#b4b4f0" stroke-opacity="0.5" stroke-width="0.7" stroke-dasharray="1 1.1"/>
<path d="M212.10,211.80C212.58,208.98 214.18,210.63 215.00,211.00C215.82,211.37 216.67,212.17 217.00,214.00C217.33,215.83 217.42,219.67 217.00,222.00C216.58,224.33 215.32,227.02 214.50,228.00C213.68,228.98 212.50,230.60 212.10,227.90C211.70,225.20 211.62,214.62 212.10,211.80Z" fill="#000082" stroke="#b4b4f0" stroke-opacity="0.5" stroke-width="0.7" stroke-dasharray="1 1.1"/>
<path d="M183.90,279.50C184.58,278.15 186.52,277.82 188.00,276.20C189.48,274.58 191.33,271.27 192.80,269.80C194.27,268.33 195.73,267.13 196.80,267.40C197.87,267.67 198.80,269.38 199.20,271.40C199.60,273.42 199.73,277.62 199.20,279.50C198.67,281.38 197.33,281.63 196.00,282.70C194.67,283.77 192.82,284.83 191.20,285.90C189.58,286.97 187.52,289.37 186.30,289.10C185.08,288.83 184.30,285.90 183.90,284.30C183.50,282.70 183.22,280.85 183.90,279.50Z" fill="#000082" stroke="#b4b4f0" stroke-opacity="0.5" stroke-width="0.7" stroke-dasharray="1 1.1"/>
<path d="M224.30,206.70C225.23,205.72 227.23,202.98 229.10,201.10C230.97,199.22 233.62,196.62 235.50,195.40C237.38,194.18 239.05,193.53 240.40,193.80C241.75,194.07 242.67,195.38 243.60,197.00C244.53,198.62 245.20,201.30 246.00,203.50C246.80,205.70 247.73,208.00 248.40,210.20C249.07,212.40 249.87,214.28 250.00,216.70C250.13,219.12 250.00,222.97 249.20,224.70C248.40,226.43 247.20,226.83 245.20,227.10C243.20,227.37 239.88,226.57 237.20,226.30C234.52,226.03 231.25,226.03 229.10,225.50C226.95,224.97 225.23,224.57 224.30,223.10C223.37,221.63 223.63,219.38 223.50,216.70C223.37,214.02 223.37,208.67 223.50,207.00C223.63,205.33 223.37,207.68 224.30,206.70Z" fill="#000082" stroke="#b4b4f0" stroke-opacity="0.5" stroke-width="0.7" stroke-dasharray="1 1.1"/>
<path d="M224.30,279.00C224.63,278.17 225.55,276.92 227.00,276.50C228.45,276.08 231.30,276.17 233.00,276.50C234.70,276.83 237.03,277.67 237.20,278.50C237.37,279.33 235.53,280.80 234.00,281.50C232.47,282.20 229.50,282.70 228.00,282.70C226.50,282.70 225.62,282.12 225.00,281.50C224.38,280.88 223.97,279.83 224.30,279.00Z" fill="#000082" stroke="#b4b4f0" stroke-opacity="0.5" stroke-width="0.7" stroke-dasharray="1 1.1"/>
<path d="M187.30,320.00C187.30,320.00 192.48,317.12 195.10,315.90C197.72,314.68 200.38,313.10 203.00,312.70C205.62,312.30 208.97,313.23 210.80,313.50C212.63,313.77 212.42,314.43 214.00,314.30C215.58,314.17 217.68,312.83 220.30,312.70C222.92,312.57 226.57,313.10 229.70,313.50C232.83,313.90 235.97,314.70 239.10,315.10C242.23,315.50 246.15,315.08 248.50,315.90C250.85,316.72 253.20,320.00 253.20,320.00C253.20,320.00 187.30,320.00 187.30,320.00Z" fill="#000082" stroke="#b4b4f0" stroke-opacity="0.5" stroke-width="0.7" stroke-dasharray="1 1.1"/>
<ellipse cx="251.7" cy="301.8" rx="2" ry="2" fill="#000082" stroke="#b4b4f0" stroke-opacity="0.5" stroke-width="0.7" stroke-dasharray="1 1.1"/>
<path d="M101.00,283.00C101.00,283.00 101.25,283.28 102.60,282.70C103.95,282.12 107.35,282.72 109.10,279.50C110.85,276.28 112.17,270.12 113.10,263.40C114.03,256.68 114.30,246.18 114.70,239.20C115.10,232.22 114.12,226.87 115.50,221.50C116.88,216.13 121.38,211.08 123.00,207.00C124.62,202.92 124.30,200.80 125.20,197.00C126.10,193.20 127.07,188.48 128.40,184.20C129.73,179.92 131.05,175.33 133.20,171.30C135.35,167.27 138.35,163.22 141.30,160.00C144.25,156.78 147.68,154.42 150.90,152.00C154.12,149.58 157.92,147.38 160.60,145.50C163.28,143.62 165.40,141.50 167.00,140.70C168.60,139.90 169.12,139.90 170.20,140.70C171.28,141.50 172.68,143.08 173.50,145.50C174.32,147.92 174.78,151.72 175.10,155.20C175.42,158.68 175.53,161.85 175.40,166.40C175.27,170.95 174.90,177.40 174.30,182.50C173.70,187.60 172.68,192.92 171.80,197.00C170.92,201.08 169.80,202.65 169.00,207.00C168.20,211.35 167.73,216.38 167.00,223.10C166.27,229.82 165.13,239.25 164.60,247.30C164.07,255.35 163.80,263.35 163.80,271.40C163.80,279.45 164.07,287.50 164.60,295.60C165.13,303.70 167.00,320.00 167.00,320.00C167.00,320.00 101.00,320.00 101.00,320.00C101.00,320.00 101.00,283.00 101.00,283.00Z" fill="#0032e0" stroke="#b4b4f0" stroke-opacity="0.5" stroke-width="0.7" stroke-dasharray="1 1.1"/>
<path d="M201.60,118.20C202.80,116.45 203.72,115.43 204.80,115.70C205.88,115.97 207.15,117.78 208.10,119.80C209.05,121.82 209.52,125.93 210.50,127.80C211.48,129.67 212.92,132.07 214.00,131.00C215.08,129.93 215.68,123.95 217.00,121.40C218.32,118.85 220.55,115.97 221.90,115.70C223.25,115.43 223.90,117.25 225.10,119.80C226.30,122.35 227.77,127.25 229.10,131.00C230.43,134.75 231.90,138.53 233.10,142.30C234.30,146.07 235.62,150.65 236.30,153.60C236.98,156.55 237.33,157.32 237.20,160.00C237.07,162.68 236.58,166.75 235.50,169.70C234.42,172.65 232.57,175.28 230.70,177.70C228.83,180.12 226.18,182.72 224.30,184.20C222.42,185.68 221.12,186.33 219.40,186.60C217.68,186.87 215.75,185.80 214.00,185.80C212.25,185.80 210.83,186.87 208.90,186.60C206.97,186.33 204.28,185.68 202.40,184.20C200.52,182.72 198.93,180.67 197.60,177.70C196.27,174.73 195.07,169.62 194.40,166.40C193.73,163.18 193.60,162.42 193.60,158.40C193.60,154.38 193.73,147.67 194.40,142.30C195.07,136.93 196.40,130.22 197.60,126.20C198.80,122.18 200.40,119.95 201.60,118.20Z" fill="#0032e0" stroke="#b4b4f0" stroke-opacity="0.5" stroke-width="0.7" stroke-dasharray="1 1.1"/>
<path d="M251.60,158.40C251.88,156.53 251.95,153.62 253.30,152.00C254.65,150.38 257.30,149.12 259.70,148.70C262.10,148.28 265.02,148.55 267.70,149.50C270.38,150.45 273.38,152.38 275.80,154.40C278.22,156.42 280.05,158.52 282.20,161.60C284.35,164.68 286.82,169.13 288.70,172.90C290.58,176.67 292.17,180.45 293.50,184.20C294.83,187.95 295.62,191.60 296.70,195.40C297.78,199.20 298.38,202.38 300.00,207.00C301.62,211.62 304.80,217.73 306.40,223.10C308.00,228.47 308.67,233.83 309.60,239.20C310.53,244.57 311.47,248.58 312.00,255.30C312.53,262.02 312.80,272.78 312.80,279.50C312.80,286.22 312.27,288.85 312.00,295.60C311.73,302.35 311.20,320.00 311.20,320.00C311.20,320.00 264.20,320.00 264.20,320.00C264.20,320.00 264.58,310.87 264.50,306.80C264.42,302.73 264.23,299.35 263.70,295.60C263.17,291.85 262.23,287.80 261.30,284.30C260.37,280.80 259.43,277.55 258.10,274.60C256.77,271.65 254.92,268.75 253.30,266.60C251.68,264.45 250.55,262.38 248.40,261.70C246.25,261.02 243.08,262.50 240.40,262.50C237.72,262.50 234.18,262.90 232.30,261.70C230.42,260.50 229.37,257.70 229.10,255.30C228.83,252.90 229.63,249.32 230.70,247.30C231.77,245.28 233.62,243.35 235.50,243.20C237.38,243.05 239.85,245.32 242.00,246.40C244.15,247.48 246.25,249.83 248.40,249.70C250.55,249.57 253.02,247.35 254.90,245.60C256.78,243.85 258.77,242.95 259.70,239.20C260.63,235.45 260.50,228.47 260.50,223.10C260.50,217.73 260.10,211.35 259.70,207.00C259.30,202.65 258.63,200.53 258.10,197.00C257.57,193.47 257.17,189.55 256.50,185.80C255.83,182.05 254.92,178.27 254.10,174.50C253.28,170.73 252.02,165.88 251.60,163.20C251.18,160.52 251.32,160.27 251.60,158.40Z" fill="#0032e0" stroke="#b4b4f0" stroke-opacity="0.5" stroke-width="0.7" stroke-dasharray="1 1.1"/>
<ellipse cx="212.3" cy="286" rx="1.8" ry="9" fill="#0032e0" stroke="#b4b4f0" stroke-opacity="0.5" stroke-width="0.7" stroke-dasharray="1 1.1"/>
<ellipse cx="207.2" cy="255.2" rx="1.1" ry="1.6" fill="#0032e0" stroke="#b4b4f0" stroke-opacity="0.5" stroke-width="0.7" stroke-dasharray="1 1.1"/>
<ellipse cx="220.1" cy="253.6" rx="1.1" ry="1.8" fill="#0032e0" stroke="#b4b4f0" stroke-opacity="0.5" stroke-width="0.7" stroke-dasharray="1 1.1"/>
<path d="M130.80,206.70C131.33,205.03 132.00,200.48 133.20,197.00C134.40,193.52 136.12,188.75 138.00,185.80C139.88,182.85 142.35,180.92 144.50,179.30C146.65,177.68 149.17,176.10 150.90,176.10C152.63,176.10 153.82,177.42 154.90,179.30C155.98,181.18 156.85,184.45 157.40,187.40C157.95,190.35 158.07,193.73 158.20,197.00C158.33,200.27 158.48,202.65 158.20,207.00C157.92,211.35 157.18,216.38 156.50,223.10C155.82,229.82 154.63,240.58 154.10,247.30C153.57,254.02 153.17,258.03 153.30,263.40C153.43,268.77 154.08,274.13 154.90,279.50C155.72,284.87 157.52,291.05 158.20,295.60C158.88,300.15 158.78,302.73 159.00,306.80C159.22,310.87 159.50,320.00 159.50,320.00C159.50,320.00 140.00,320.00 140.00,320.00C140.00,320.00 139.97,318.88 138.70,318.20C137.43,317.52 134.50,316.42 132.40,315.90C130.30,315.38 128.72,315.10 126.10,315.10C123.48,315.10 120.62,315.63 116.70,315.90C112.78,316.17 105.22,316.57 102.60,316.70C99.98,316.83 101.00,316.70 101.00,316.70C101.00,316.70 101.00,303.60 101.00,303.60C101.00,303.60 108.55,304.13 110.70,303.60C112.85,303.07 112.30,302.00 113.90,300.40C115.50,298.80 118.42,296.15 120.30,294.00C122.18,291.85 124.12,293.95 125.20,287.50C126.28,281.05 126.27,266.03 126.80,255.30C127.33,244.57 127.87,231.15 128.40,223.10C128.93,215.05 129.60,209.73 130.00,207.00C130.40,204.27 130.27,208.37 130.80,206.70Z" fill="#1e55ff" stroke="#b4b4f0" stroke-opacity="0.5" stroke-width="0.7" stroke-dasharray="1 1.1"/>
<path d="M204.80,139.10C205.88,138.83 206.88,140.70 208.10,142.30C209.32,143.90 211.28,147.90 212.10,148.70C212.92,149.50 212.32,148.17 213.00,147.10C213.68,146.03 215.00,143.90 216.20,142.30C217.40,140.70 218.98,137.50 220.20,137.50C221.42,137.50 222.42,140.15 223.50,142.30C224.58,144.45 225.90,147.72 226.70,150.40C227.50,153.08 228.30,155.45 228.30,158.40C228.30,161.35 227.63,165.15 226.70,168.10C225.77,171.05 224.05,174.50 222.70,176.10C221.35,177.70 219.95,177.97 218.60,177.70C217.25,177.43 215.68,175.03 214.60,174.50C213.52,173.97 213.32,174.10 212.10,174.50C210.88,174.90 208.78,177.17 207.30,176.90C205.82,176.63 204.42,174.92 203.20,172.90C201.98,170.88 200.67,167.75 200.00,164.80C199.33,161.85 198.93,158.68 199.20,155.20C199.47,151.72 200.67,146.58 201.60,143.90C202.53,141.22 203.72,139.37 204.80,139.10Z" fill="#1e55ff" stroke="#b4b4f0" stroke-opacity="0.5" stroke-width="0.7" stroke-dasharray="1 1.1"/>
<path d="M266.10,177.70C266.63,175.82 267.28,173.97 268.50,172.90C269.72,171.83 271.65,171.03 273.40,171.30C275.15,171.57 277.27,172.88 279.00,174.50C280.73,176.12 282.18,178.32 283.80,181.00C285.42,183.68 287.22,186.85 288.70,190.60C290.18,194.35 291.65,200.77 292.70,203.50C293.75,206.23 293.67,203.73 295.00,207.00C296.33,210.27 299.20,217.73 300.70,223.10C302.20,228.47 303.18,233.83 304.00,239.20C304.82,244.57 305.07,248.58 305.60,255.30C306.13,262.02 306.93,272.78 307.20,279.50C307.47,286.22 307.33,290.18 307.20,295.60C307.07,301.02 311.47,309.27 306.40,312.00C301.33,314.73 282.53,312.00 276.80,312.00C271.07,312.00 273.45,312.13 272.00,312.00C270.55,311.87 268.62,312.25 268.10,311.20C267.58,310.15 268.90,309.23 268.90,305.70C268.90,302.17 268.83,296.25 268.10,290.00C267.37,283.75 265.63,273.98 264.50,268.20C263.37,262.42 261.70,260.13 261.30,255.30C260.90,250.47 261.57,244.57 262.10,239.20C262.63,233.83 263.83,228.47 264.50,223.10C265.17,217.73 266.10,211.35 266.10,207.00C266.10,202.65 264.63,200.80 264.50,197.00C264.37,193.20 265.03,187.42 265.30,184.20C265.57,180.98 265.57,179.58 266.10,177.70Z" fill="#1e55ff" stroke="#b4b4f0" stroke-opacity="0.5" stroke-width="0.7" stroke-dasharray="1 1.1"/>
<path d="M206.50,154.40C207.58,154.40 209.70,157.60 209.70,159.20C209.70,160.80 207.58,164.00 206.50,164.00C205.42,164.00 203.20,160.80 203.20,159.20C203.20,157.60 205.42,154.40 206.50,154.40Z" fill="#4678ff" stroke="#b4b4f0" stroke-opacity="0.5" stroke-width="0.7" stroke-dasharray="1 1.1"/>
<path d="M219.40,152.00C220.75,152.00 223.50,156.27 223.50,158.40C223.50,160.53 220.75,164.80 219.40,164.80C218.05,164.80 215.40,160.53 215.40,158.40C215.40,156.27 218.05,152.00 219.40,152.00Z" fill="#4678ff" stroke="#b4b4f0" stroke-opacity="0.5" stroke-width="0.7" stroke-dasharray="1 1.1"/>
<ellipse cx="138" cy="232.7" rx="1.2" ry="11.3" fill="#4678ff" stroke="#b4b4f0" stroke-opacity="0.5" stroke-width="0.7" stroke-dasharray="1 1.1"/>
<ellipse cx="117.2" cy="311" rx="3.9" ry="1.6" fill="#4678ff" stroke="#b4b4f0" stroke-opacity="0.5" stroke-width="0.7" stroke-dasharray="1 1.1"/>
<path d="M147.70,299.60C149.30,300.03 151.00,301.80 152.50,303.60C154.00,305.40 156.13,308.35 156.70,310.40C157.27,312.45 156.82,314.85 155.90,315.90C154.98,316.95 153.17,317.35 151.20,316.70C149.23,316.05 145.80,313.83 144.10,312.00C142.40,310.17 141.47,307.27 141.00,305.70C140.53,304.13 140.98,303.38 141.30,302.60C141.62,301.82 141.83,301.50 142.90,301.00C143.97,300.50 146.10,299.17 147.70,299.60Z" fill="#4678ff" stroke="#b4b4f0" stroke-opacity="0.5" stroke-width="0.7" stroke-dasharray="1 1.1"/>
<path d="M273.40,203.50C274.20,201.43 275.53,196.22 276.60,194.60C277.67,192.98 278.60,193.12 279.80,193.80C281.00,194.48 282.32,196.50 283.80,198.70C285.28,200.90 286.95,202.93 288.70,207.00C290.45,211.07 292.97,217.73 294.30,223.10C295.63,228.47 296.03,232.48 296.70,239.20C297.37,245.92 297.90,255.35 298.30,263.40C298.70,271.45 298.83,280.72 299.10,287.50C299.37,294.28 300.22,300.93 299.90,304.10C299.58,307.27 299.23,305.97 297.20,306.50C295.17,307.03 290.58,307.43 287.70,307.30C284.82,307.17 281.62,305.52 279.90,305.70C278.18,305.88 277.55,309.28 277.40,308.40C277.25,307.52 279.13,303.88 279.00,300.40C278.87,296.92 277.67,292.33 276.60,287.50C275.53,282.67 273.95,276.77 272.60,271.40C271.25,266.03 269.18,260.67 268.50,255.30C267.82,249.93 268.35,244.57 268.50,239.20C268.65,233.83 268.85,228.47 269.40,223.10C269.95,217.73 271.13,210.27 271.80,207.00C272.47,203.73 272.60,205.57 273.40,203.50Z" fill="#4678ff" stroke="#b4b4f0" stroke-opacity="0.5" stroke-width="0.7" stroke-dasharray="1 1.1"/>
<path d="M283.00,219.10C284.48,219.10 286.55,221.35 287.90,224.70C289.25,228.05 290.17,232.75 291.10,239.20C292.03,245.65 292.83,255.35 293.50,263.40C294.17,271.45 295.10,280.80 295.10,287.50C295.10,294.20 294.83,300.92 293.50,303.60C292.17,306.28 288.45,304.93 287.10,303.60C285.75,302.27 286.22,299.62 285.40,295.60C284.58,291.58 283.53,284.33 282.20,279.50C280.87,274.67 278.60,270.63 277.40,266.60C276.20,262.57 275.27,259.87 275.00,255.30C274.73,250.73 275.13,244.30 275.80,239.20C276.47,234.10 277.80,228.05 279.00,224.70C280.20,221.35 281.52,219.10 283.00,219.10Z" fill="#82a5ff" stroke="#b4b4f0" stroke-opacity="0.5" stroke-width="0.7" stroke-dasharray="1 1.1"/>
<polygon points="324.1,207 327,207 327,320 276.8,320 276.8,312 299.5,312 299.5,304.1 305,304.1 305,311.2 312,311.2 312,304.1 316,304.1 316.5,287.5 319.2,287.5 319.2,239.2 320.9,239.2 320.9,223.1 324.1,223.1" fill="#fff"/>
</g></g>
<rect x="422.5" y="94.7" width="224.5" height="224.6" fill="none" stroke="#000" stroke-width="1.3"/>
<line x1="422.50" y1="319.3" x2="422.50" y2="325.5" stroke="#000" stroke-width="1.3"/>
<line x1="422.50" y1="94.7" x2="422.50" y2="88.5" stroke="#000" stroke-width="1.3"/>
<line x1="434.97" y1="319.3" x2="434.97" y2="322.1" stroke="#000" stroke-width="0.9"/>
<line x1="434.97" y1="94.7" x2="434.97" y2="91.9" stroke="#000" stroke-width="0.9"/>
<line x1="447.44" y1="319.3" x2="447.44" y2="322.1" stroke="#000" stroke-width="0.9"/>
<line x1="447.44" y1="94.7" x2="447.44" y2="91.9" stroke="#000" stroke-width="0.9"/>
<line x1="459.92" y1="319.3" x2="459.92" y2="325.5" stroke="#000" stroke-width="1.3"/>
<line x1="459.92" y1="94.7" x2="459.92" y2="88.5" stroke="#000" stroke-width="1.3"/>
<line x1="472.39" y1="319.3" x2="472.39" y2="322.1" stroke="#000" stroke-width="0.9"/>
<line x1="472.39" y1="94.7" x2="472.39" y2="91.9" stroke="#000" stroke-width="0.9"/>
<line x1="484.86" y1="319.3" x2="484.86" y2="322.1" stroke="#000" stroke-width="0.9"/>
<line x1="484.86" y1="94.7" x2="484.86" y2="91.9" stroke="#000" stroke-width="0.9"/>
<line x1="497.33" y1="319.3" x2="497.33" y2="325.5" stroke="#000" stroke-width="1.3"/>
<line x1="497.33" y1="94.7" x2="497.33" y2="88.5" stroke="#000" stroke-width="1.3"/>
<line x1="509.81" y1="319.3" x2="509.81" y2="322.1" stroke="#000" stroke-width="0.9"/>
<line x1="509.81" y1="94.7" x2="509.81" y2="91.9" stroke="#000" stroke-width="0.9"/>
<line x1="522.28" y1="319.3" x2="522.28" y2="322.1" stroke="#000" stroke-width="0.9"/>
<line x1="522.28" y1="94.7" x2="522.28" y2="91.9" stroke="#000" stroke-width="0.9"/>
<line x1="534.75" y1="319.3" x2="534.75" y2="325.5" stroke="#000" stroke-width="1.3"/>
<line x1="534.75" y1="94.7" x2="534.75" y2="88.5" stroke="#000" stroke-width="1.3"/>
<line x1="547.22" y1="319.3" x2="547.22" y2="322.1" stroke="#000" stroke-width="0.9"/>
<line x1="547.22" y1="94.7" x2="547.22" y2="91.9" stroke="#000" stroke-width="0.9"/>
<line x1="559.69" y1="319.3" x2="559.69" y2="322.1" stroke="#000" stroke-width="0.9"/>
<line x1="559.69" y1="94.7" x2="559.69" y2="91.9" stroke="#000" stroke-width="0.9"/>
<line x1="572.17" y1="319.3" x2="572.17" y2="325.5" stroke="#000" stroke-width="1.3"/>
<line x1="572.17" y1="94.7" x2="572.17" y2="88.5" stroke="#000" stroke-width="1.3"/>
<line x1="584.64" y1="319.3" x2="584.64" y2="322.1" stroke="#000" stroke-width="0.9"/>
<line x1="584.64" y1="94.7" x2="584.64" y2="91.9" stroke="#000" stroke-width="0.9"/>
<line x1="597.11" y1="319.3" x2="597.11" y2="322.1" stroke="#000" stroke-width="0.9"/>
<line x1="597.11" y1="94.7" x2="597.11" y2="91.9" stroke="#000" stroke-width="0.9"/>
<line x1="609.58" y1="319.3" x2="609.58" y2="325.5" stroke="#000" stroke-width="1.3"/>
<line x1="609.58" y1="94.7" x2="609.58" y2="88.5" stroke="#000" stroke-width="1.3"/>
<line x1="622.06" y1="319.3" x2="622.06" y2="322.1" stroke="#000" stroke-width="0.9"/>
<line x1="622.06" y1="94.7" x2="622.06" y2="91.9" stroke="#000" stroke-width="0.9"/>
<line x1="634.53" y1="319.3" x2="634.53" y2="322.1" stroke="#000" stroke-width="0.9"/>
<line x1="634.53" y1="94.7" x2="634.53" y2="91.9" stroke="#000" stroke-width="0.9"/>
<line x1="647.00" y1="319.3" x2="647.00" y2="325.5" stroke="#000" stroke-width="1.3"/>
<line x1="647.00" y1="94.7" x2="647.00" y2="88.5" stroke="#000" stroke-width="1.3"/>
<line x1="416.5" y1="94.70" x2="422.5" y2="94.70" stroke="#000" stroke-width="1.3"/>
<line x1="416.5" y1="126.79" x2="422.5" y2="126.79" stroke="#000" stroke-width="1.3"/>
<line x1="416.5" y1="158.87" x2="422.5" y2="158.87" stroke="#000" stroke-width="1.3"/>
<line x1="416.5" y1="223.04" x2="422.5" y2="223.04" stroke="#000" stroke-width="1.3"/>
<line x1="416.5" y1="271.17" x2="422.5" y2="271.17" stroke="#000" stroke-width="1.3"/>
<line x1="416.5" y1="319.30" x2="422.5" y2="319.30" stroke="#000" stroke-width="1.3"/>
<line x1="647.0" y1="112.10" x2="653.2" y2="112.10" stroke="#000" stroke-width="1.3"/>
<line x1="647.0" y1="196.50" x2="653.2" y2="196.50" stroke="#000" stroke-width="1.3"/>
<text x="410.9" y="98.1" font-size="9.7" text-anchor="end" fill="#000">300</text>
<text x="410.9" y="130.19" font-size="9.7" text-anchor="end" fill="#000">400</text>
<text x="410.9" y="162.27" font-size="9.7" text-anchor="end" fill="#000">500</text>
<text x="410.9" y="226.44" font-size="9.7" text-anchor="end" fill="#000">700</text>
<text x="410.9" y="274.57" font-size="9.7" text-anchor="end" fill="#000">850</text>
<text x="410.9" y="322.7" font-size="9.7" text-anchor="end" fill="#000">1000</text>
<text x="422.5" y="338.1" font-size="9.0" text-anchor="middle" fill="#000">90N</text>
<text x="459.92" y="338.1" font-size="9.0" text-anchor="middle" fill="#000">60N</text>
<text x="497.33" y="338.1" font-size="9.0" text-anchor="middle" fill="#000">30N</text>
<text x="534.75" y="338.1" font-size="9.0" text-anchor="middle" fill="#000">0</text>
<text x="572.17" y="338.1" font-size="9.0" text-anchor="middle" fill="#000">30S</text>
<text x="609.58" y="338.1" font-size="9.0" text-anchor="middle" fill="#000">60S</text>
<text x="647.0" y="338.1" font-size="9.0" text-anchor="middle" fill="#000">90S</text>
<text x="658.0" y="116.0" font-size="9.9" text-anchor="start" fill="#000">8</text>
<text x="658.0" y="199.8" font-size="9.9" text-anchor="start" fill="#000">4</text>
<text x="0" y="0" font-size="14.8" fill="#000" stroke="#fff" stroke-width="0.25" textLength="59.2" lengthAdjust="spacingAndGlyphs" transform="translate(381.10,257.40) rotate(-90)">Pressure</text>
<text x="0" y="0" font-size="14.8" fill="#000" stroke="#fff" stroke-width="0.25" textLength="31.4" lengthAdjust="spacingAndGlyphs" transform="translate(381.10,188.40) rotate(-90)">(mb)</text>
<text x="0" y="0" font-size="14.8" fill="#000" stroke="#fff" stroke-width="0.25" textLength="41.9" lengthAdjust="spacingAndGlyphs" transform="translate(681.30,248.50) rotate(-90)">Height</text>
<text x="0" y="0" font-size="14.8" fill="#000" stroke="#fff" stroke-width="0.25" textLength="30.5" lengthAdjust="spacingAndGlyphs" transform="translate(681.30,196.40) rotate(-90)">(km)</text>
<text x="453.3" y="64.6" font-size="14.5" text-anchor="start" fill="#000" textLength="78.1" lengthAdjust="spacingAndGlyphs" stroke="#fff" stroke-width="0.2">ControlSOM</text>
<text x="539.1" y="64.6" font-size="14.5" text-anchor="start" fill="#000" textLength="25.9" lengthAdjust="spacingAndGlyphs" stroke="#fff" stroke-width="0.2">(yrs</text>
<text x="572.7" y="64.6" font-size="14.5" text-anchor="start" fill="#000" textLength="44.1" lengthAdjust="spacingAndGlyphs" stroke="#fff" stroke-width="0.2">9&#8722;14)</text>
<rect x="426.00" y="360" width="13.60" height="20.2" fill="#000082"/>
<rect x="439.60" y="360" width="13.60" height="20.2" fill="#0020b4"/>
<rect x="453.20" y="360" width="13.60" height="20.2" fill="#0032e0"/>
<rect x="466.80" y="360" width="13.60" height="20.2" fill="#1e55ff"/>
<rect x="480.40" y="360" width="13.60" height="20.2" fill="#4678ff"/>
<rect x="494.00" y="360" width="13.60" height="20.2" fill="#82a5ff"/>
<rect x="507.60" y="360" width="13.60" height="20.2" fill="#b4c8ff"/>
<rect x="521.20" y="360" width="13.60" height="20.2" fill="#d7e8ff"/>
<rect x="534.80" y="360" width="13.60" height="20.2" fill="#ffe8d7"/>
<rect x="548.40" y="360" width="13.60" height="20.2" fill="#ffcdb4"/>
<rect x="562.00" y="360" width="13.60" height="20.2" fill="#ffa582"/>
<rect x="575.60" y="360" width="13.60" height="20.2" fill="#ff7846"/>
<rect x="589.20" y="360" width="13.60" height="20.2" fill="#ff5020"/>
<rect x="602.80" y="360" width="13.60" height="20.2" fill="#e13200"/>
<rect x="616.40" y="360" width="13.60" height="20.2" fill="#b92300"/>
<rect x="630.00" y="360" width="13.60" height="20.2" fill="#870000"/>
<line x1="426.00" y1="360" x2="426.00" y2="380.2" stroke="#222" stroke-width="0.9"/>
<line x1="439.60" y1="360" x2="439.60" y2="380.2" stroke="#222" stroke-width="0.9"/>
<line x1="453.20" y1="360" x2="453.20" y2="380.2" stroke="#222" stroke-width="0.9"/>
<line x1="466.80" y1="360" x2="466.80" y2="380.2" stroke="#222" stroke-width="0.9"/>
<line x1="480.40" y1="360" x2="480.40" y2="380.2" stroke="#222" stroke-width="0.9"/>
<line x1="494.00" y1="360" x2="494.00" y2="380.2" stroke="#222" stroke-width="0.9"/>
<line x1="507.60" y1="360" x2="507.60" y2="380.2" stroke="#222" stroke-width="0.9"/>
<line x1="521.20" y1="360" x2="521.20" y2="380.2" stroke="#222" stroke-width="0.9"/>
<line x1="534.80" y1="360" x2="534.80" y2="380.2" stroke="#222" stroke-width="0.9"/>
<line x1="548.40" y1="360" x2="548.40" y2="380.2" stroke="#222" stroke-width="0.9"/>
<line x1="562.00" y1="360" x2="562.00" y2="380.2" stroke="#222" stroke-width="0.9"/>
<line x1="575.60" y1="360" x2="575.60" y2="380.2" stroke="#222" stroke-width="0.9"/>
<line x1="589.20" y1="360" x2="589.20" y2="380.2" stroke="#222" stroke-width="0.9"/>
<line x1="602.80" y1="360" x2="602.80" y2="380.2" stroke="#222" stroke-width="0.9"/>
<line x1="616.40" y1="360" x2="616.40" y2="380.2" stroke="#222" stroke-width="0.9"/>
<line x1="630.00" y1="360" x2="630.00" y2="380.2" stroke="#222" stroke-width="0.9"/>
<line x1="643.60" y1="360" x2="643.60" y2="380.2" stroke="#222" stroke-width="0.9"/>
<rect x="426" y="360" width="217.6" height="20.2" fill="none" stroke="#222" stroke-width="0.9"/>
<text x="439.6" y="393.1" font-size="10.0" text-anchor="middle" fill="#000" textLength="21.6" lengthAdjust="spacing">0.01</text>
<text x="466.8" y="393.1" font-size="10.0" text-anchor="middle" fill="#000" textLength="21.6" lengthAdjust="spacing">0.03</text>
<text x="494.0" y="393.1" font-size="10.0" text-anchor="middle" fill="#000" textLength="21.6" lengthAdjust="spacing">0.05</text>
<text x="521.2" y="393.1" font-size="10.0" text-anchor="middle" fill="#000" textLength="14.8" lengthAdjust="spacing">0.1</text>
<text x="548.4" y="393.1" font-size="10.0" text-anchor="middle" fill="#000" textLength="21.6" lengthAdjust="spacing">0.14</text>
<text x="575.6" y="393.1" font-size="10.0" text-anchor="middle" fill="#000" textLength="21.6" lengthAdjust="spacing">0.18</text>
<text x="602.8" y="393.1" font-size="10.0" text-anchor="middle" fill="#000" textLength="21.6" lengthAdjust="spacing">0.22</text>
<text x="630.0" y="393.1" font-size="10.0" text-anchor="middle" fill="#000" textLength="21.6" lengthAdjust="spacing">0.26</text>
<text x="131.1" y="349.5" font-size="11.6" text-anchor="start" fill="#000" textLength="17.8" lengthAdjust="spacingAndGlyphs">MIN</text>
<text x="155.7" y="349.5" font-size="11.6" text-anchor="start" fill="#000" textLength="6.7" lengthAdjust="spacingAndGlyphs">=</text>
<text x="181.9" y="349.5" font-size="11.6" text-anchor="start" fill="#000" textLength="23.7" lengthAdjust="spacingAndGlyphs">0.00</text>
<text x="218.3" y="349.5" font-size="11.6" text-anchor="start" fill="#000" textLength="21.0" lengthAdjust="spacingAndGlyphs">MAX</text>
<text x="246.6" y="349.5" font-size="11.6" text-anchor="start" fill="#000" textLength="7.3" lengthAdjust="spacingAndGlyphs">=</text>
<text x="272.2" y="349.5" font-size="11.6" text-anchor="start" fill="#000" textLength="23.8" lengthAdjust="spacingAndGlyphs">0.06</text>
<text x="452.1" y="349.5" font-size="11.6" text-anchor="start" fill="#000" textLength="17.8" lengthAdjust="spacingAndGlyphs">MIN</text>
<text x="476.7" y="349.5" font-size="11.6" text-anchor="start" fill="#000" textLength="6.7" lengthAdjust="spacingAndGlyphs">=</text>
<text x="502.9" y="349.5" font-size="11.6" text-anchor="start" fill="#000" textLength="23.7" lengthAdjust="spacingAndGlyphs">0.00</text>
<text x="539.3" y="349.5" font-size="11.6" text-anchor="start" fill="#000" textLength="21.0" lengthAdjust="spacingAndGlyphs">MAX</text>
<text x="567.6" y="349.5" font-size="11.6" text-anchor="start" fill="#000" textLength="7.3" lengthAdjust="spacingAndGlyphs">=</text>
<text x="593.2" y="349.5" font-size="11.6" text-anchor="start" fill="#000" textLength="23.8" lengthAdjust="spacingAndGlyphs">0.06</text>
<clipPath id="clip160_358"><rect x="262.0" y="453.4" width="224.5" height="224.6"/></clipPath>
<g clip-path="url(#clip160_358)"><g transform="translate(160.5,358.7)">
<g transform="translate(-160.5,-358.7)"><rect x="260" y="450" width="230" height="232" fill="#d7e8ff"/><path d="M320.80,522.20C322.15,520.18 324.40,518.47 325.60,518.20C326.80,517.93 326.93,520.07 328.00,520.60C329.07,521.13 330.65,520.18 332.00,521.40C333.35,522.62 335.02,526.55 336.10,527.90C337.18,529.25 337.57,529.37 338.50,529.50C339.43,529.63 340.90,528.30 341.70,528.70C342.50,529.10 342.63,530.57 343.30,531.90C343.97,533.23 344.48,535.23 345.70,536.70C346.92,538.17 348.98,539.08 350.60,540.70C352.22,542.32 354.07,544.92 355.40,546.40C356.73,547.88 358.12,546.38 358.60,549.60C359.08,552.82 358.97,560.72 358.30,565.70C357.63,570.68 356.03,575.87 354.60,579.50C353.17,583.13 351.45,585.88 349.70,587.50C347.95,589.12 345.30,588.65 344.10,589.20C342.90,589.75 343.03,591.35 342.50,590.80C341.97,590.25 341.43,584.30 340.90,585.90C340.37,587.50 340.10,596.37 339.30,600.40C338.50,604.43 336.90,606.60 336.10,610.10C335.30,613.60 334.50,616.83 334.50,621.40C334.50,625.97 335.97,630.80 336.10,637.50C336.23,644.20 335.82,654.68 335.30,661.60C334.78,668.52 333.00,679.00 333.00,679.00C333.00,679.00 319.00,679.00 319.00,679.00C319.00,679.00 317.88,675.00 316.70,672.90C315.52,670.80 313.90,668.28 311.90,666.40C309.90,664.52 306.17,664.02 304.70,661.60C303.23,659.18 302.97,654.58 303.10,651.90C303.23,649.22 305.50,647.90 305.50,645.50C305.50,643.10 302.83,641.52 303.10,637.50C303.37,633.48 306.03,626.77 307.10,621.40C308.17,616.03 308.83,612.02 309.50,605.30C310.17,598.58 310.52,587.73 311.10,581.10C311.68,574.47 312.33,570.75 313.00,565.50C313.67,560.25 314.35,555.47 315.10,549.60C315.85,543.73 316.55,534.87 317.50,530.30C318.45,525.73 319.45,524.22 320.80,522.20Z" fill="#ffe8d7"/>
<ellipse cx="309.1" cy="644" rx="1.3" ry="5.5" fill="#d7e8ff"/>
<path d="M383.70,453.00C383.70,453.00 398.20,453.00 398.20,453.00C398.20,453.00 398.60,463.73 399.00,469.10C399.40,474.47 399.80,479.83 400.60,485.20C401.40,490.57 402.87,498.08 403.80,501.30C404.73,504.52 405.27,505.03 406.20,504.50C407.13,503.97 408.47,500.38 409.40,498.10C410.33,495.82 410.85,491.33 411.80,490.80C412.75,490.27 414.28,491.80 415.10,494.90C415.92,498.00 416.17,504.30 416.70,509.40C417.23,514.50 417.63,519.33 418.30,525.50C418.97,531.67 419.98,541.48 420.70,546.40C421.42,551.32 422.13,551.78 422.60,555.00C423.07,558.22 423.07,562.43 423.50,565.70C423.93,568.97 424.62,572.82 425.20,574.60C425.78,576.38 426.55,576.70 427.00,576.40C427.45,576.10 427.60,574.88 427.90,572.80C428.20,570.72 428.35,565.68 428.80,563.90C429.25,562.12 429.42,562.70 430.60,562.10C431.78,561.50 434.72,560.45 435.90,560.30C437.08,560.15 437.10,560.30 437.70,561.20C438.30,562.10 439.05,562.28 439.50,565.70C439.95,569.12 439.95,574.57 440.40,581.70C440.85,588.83 441.62,599.58 442.20,608.50C442.78,617.42 443.32,628.68 443.90,635.20C444.48,641.72 445.25,643.75 445.70,647.60C446.15,651.45 446.75,655.92 446.60,658.30C446.45,660.68 445.53,662.18 444.80,661.90C444.07,661.62 443.23,658.23 442.20,656.60C441.17,654.97 440.08,653.60 438.60,652.10C437.12,650.60 434.48,647.75 433.30,647.60C432.12,647.45 431.80,648.82 431.50,651.20C431.20,653.58 431.50,657.27 431.50,661.90C431.50,666.53 431.50,679.00 431.50,679.00C431.50,679.00 421.70,679.00 421.70,679.00C421.70,679.00 421.25,676.05 420.80,672.60C420.35,669.15 419.45,663.05 419.00,658.30C418.55,653.55 418.10,648.25 418.10,644.10C418.10,639.95 418.55,636.07 419.00,633.40C419.45,630.73 420.20,629.13 420.80,628.10C421.40,627.07 422.02,626.92 422.60,627.20C423.18,627.48 423.62,628.47 424.30,629.80C424.98,631.13 426.18,635.78 426.70,635.20C427.22,634.62 427.20,630.75 427.40,626.30C427.60,621.85 427.90,613.55 427.90,608.50C427.90,603.45 427.60,598.98 427.40,596.00C427.20,593.02 427.07,591.35 426.70,590.60C426.33,589.85 425.73,590.75 425.20,591.50C424.67,592.25 424.08,593.90 423.50,595.10C422.92,596.30 422.45,598.55 421.70,598.70C420.95,598.85 419.90,597.50 419.00,596.00C418.10,594.50 417.18,591.33 416.30,589.70C415.42,588.07 414.43,586.48 413.70,586.20C412.97,585.92 412.50,585.48 411.90,588.00C411.30,590.52 410.70,597.00 410.10,601.30C409.50,605.60 408.90,610.68 408.30,613.80C407.70,616.92 407.23,618.82 406.50,620.00C405.77,621.18 404.48,621.93 403.90,620.90C403.32,619.87 402.87,616.17 403.00,613.80C403.13,611.43 404.12,609.67 404.70,606.70C405.28,603.73 405.90,599.42 406.50,596.00C407.10,592.58 407.85,588.43 408.30,586.20C408.75,583.97 409.35,583.78 409.20,582.60C409.05,581.42 408.43,579.98 407.40,579.10C406.37,578.22 404.48,577.60 403.00,577.30C401.52,577.00 399.85,577.60 398.50,577.30C397.15,577.00 396.23,575.65 394.90,575.50C393.57,575.35 391.98,575.65 390.50,576.40C389.02,577.15 387.18,578.67 386.00,580.00C384.82,581.33 384.43,583.37 383.40,584.40C382.37,585.43 381.15,586.05 379.80,586.20C378.45,586.35 376.48,586.63 375.30,585.30C374.12,583.97 373.58,581.17 372.70,578.20C371.82,575.23 370.60,569.58 370.00,567.50C369.40,565.42 369.52,568.42 369.10,565.70C368.68,562.98 367.63,554.15 367.50,551.20C367.37,548.25 367.63,549.60 368.30,548.00C368.97,546.40 370.55,543.35 371.50,541.60C372.45,539.85 373.32,538.58 374.00,537.50C374.68,536.42 374.80,536.57 375.60,535.10C376.40,533.63 377.87,532.18 378.80,528.70C379.73,525.22 380.93,520.10 381.20,514.20C381.47,508.30 380.40,499.47 380.40,493.30C380.40,487.13 380.78,482.30 381.20,477.20C381.62,472.10 382.48,466.73 382.90,462.70C383.32,458.67 383.70,453.00 383.70,453.00Z" fill="#ffe8d7"/>
<path d="M426.30,453.00C426.30,453.00 427.62,457.65 428.70,459.40C429.78,461.15 431.32,463.50 432.80,463.50C434.28,463.50 435.87,460.75 437.60,459.40C439.33,458.05 439.85,456.20 443.20,455.40C446.55,454.60 453.93,455.00 457.70,454.60C461.47,454.20 465.80,453.00 465.80,453.00C465.80,453.00 426.30,453.00 426.30,453.00Z" fill="#ffe8d7"/>
<path d="M466.60,453.00C466.60,453.00 487.00,453.00 487.00,453.00C487.00,453.00 487.00,467.00 487.00,467.00C487.00,467.00 485.92,466.83 485.50,469.00C485.08,471.17 484.83,474.62 484.50,480.00C484.17,485.38 483.67,492.38 483.50,501.30C483.33,510.22 483.37,525.45 483.50,533.50C483.63,541.55 483.88,546.35 484.30,549.60C484.72,552.85 485.55,551.93 486.00,553.00C486.45,554.07 487.00,556.00 487.00,556.00C487.00,556.00 487.00,600.00 487.00,600.00C487.00,600.00 482.27,634.73 480.50,645.00C478.73,655.27 480.12,658.83 476.40,661.60C472.68,664.37 461.07,662.27 458.20,661.60C455.33,660.93 458.70,658.62 459.20,657.60C459.70,656.58 460.53,654.83 461.20,655.50C461.87,656.17 462.52,661.25 463.20,661.60C463.88,661.95 464.45,659.62 465.30,657.60C466.15,655.58 467.63,652.27 468.30,649.50C468.97,646.73 469.05,649.75 469.30,641.00C469.55,632.25 469.72,612.23 469.80,597.00C469.88,581.77 469.93,562.87 469.80,549.60C469.67,536.33 469.27,528.13 469.00,517.40C468.73,506.67 468.47,494.32 468.20,485.20C467.93,476.08 467.67,468.07 467.40,462.70C467.13,457.33 466.60,453.00 466.60,453.00Z" fill="#ffe8d7"/>
<path d="M370.00,628.00C370.68,627.37 372.27,627.48 373.60,627.20C374.93,626.92 376.82,626.00 378.00,626.30C379.18,626.60 380.40,627.82 380.70,629.00C381.00,630.18 380.25,632.22 379.80,633.40C379.35,634.58 378.75,636.10 378.00,636.10C377.25,636.10 376.63,633.85 375.30,633.40C373.97,632.95 370.97,633.80 370.00,633.40C369.03,633.00 369.50,631.90 369.50,631.00C369.50,630.10 369.32,628.63 370.00,628.00Z" fill="#ffe8d7"/>
<path d="M345.70,679.00C345.70,679.00 350.05,671.70 352.20,668.00C354.35,664.30 357.00,660.02 358.60,656.80C360.20,653.58 360.73,648.97 361.80,648.70C362.87,648.43 363.78,653.85 365.00,655.20C366.22,656.55 368.42,655.20 369.10,656.80C369.78,658.40 369.78,662.38 369.10,664.80C368.42,667.22 365.95,668.93 365.00,671.30C364.05,673.67 363.40,679.00 363.40,679.00C363.40,679.00 345.70,679.00 345.70,679.00Z" fill="#ffe8d7"/>
<path d="M396.70,679.00C396.70,679.00 397.60,671.25 398.50,669.00C399.40,666.75 400.92,666.23 402.10,665.50C403.28,664.77 404.57,664.02 405.60,664.60C406.63,665.18 407.55,667.52 408.30,669.00C409.05,670.48 409.48,671.83 410.10,673.50C410.72,675.17 412.00,679.00 412.00,679.00C412.00,679.00 396.70,679.00 396.70,679.00Z" fill="#ffe8d7"/>
<path d="M262.00,663.20C262.00,663.20 264.92,662.93 266.80,662.40C268.68,661.87 271.42,660.40 273.30,660.00C275.18,659.60 276.77,659.20 278.10,660.00C279.43,660.80 280.50,662.92 281.30,664.80C282.10,666.68 282.77,668.93 282.90,671.30C283.03,673.67 282.10,679.00 282.10,679.00C282.10,679.00 262.00,679.00 262.00,679.00C262.00,679.00 262.00,663.20 262.00,663.20Z" fill="#b4c8ff"/>
<polygon points="487,580.5 483.5,580.5 483.5,598.8 480.5,598.8 480.5,645.4 476.4,645.4 476.4,661.6 472.4,661.6 472.4,669.7 467.3,669.7 467.3,661.6 456.1,661.6 456.1,669.7 436.8,669.7 436.8,679 487,679" fill="#fff"/>
<polygon points="287.8,669.7 292.6,669.7 292.6,679 287.8,679" fill="#fff"/></g>
</g></g>
<rect x="262.0" y="453.4" width="224.5" height="224.6" fill="none" stroke="#000" stroke-width="1.3"/>
<line x1="262.00" y1="678.0" x2="262.00" y2="684.2" stroke="#000" stroke-width="1.3"/>
<line x1="262.00" y1="453.4" x2="262.00" y2="447.2" stroke="#000" stroke-width="1.3"/>
<line x1="274.47" y1="678.0" x2="274.47" y2="680.8" stroke="#000" stroke-width="0.9"/>
<line x1="274.47" y1="453.4" x2="274.47" y2="450.59999999999997" stroke="#000" stroke-width="0.9"/>
<line x1="286.94" y1="678.0" x2="286.94" y2="680.8" stroke="#000" stroke-width="0.9"/>
<line x1="286.94" y1="453.4" x2="286.94" y2="450.59999999999997" stroke="#000" stroke-width="0.9"/>
<line x1="299.42" y1="678.0" x2="299.42" y2="684.2" stroke="#000" stroke-width="1.3"/>
<line x1="299.42" y1="453.4" x2="299.42" y2="447.2" stroke="#000" stroke-width="1.3"/>
<line x1="311.89" y1="678.0" x2="311.89" y2="680.8" stroke="#000" stroke-width="0.9"/>
<line x1="311.89" y1="453.4" x2="311.89" y2="450.59999999999997" stroke="#000" stroke-width="0.9"/>
<line x1="324.36" y1="678.0" x2="324.36" y2="680.8" stroke="#000" stroke-width="0.9"/>
<line x1="324.36" y1="453.4" x2="324.36" y2="450.59999999999997" stroke="#000" stroke-width="0.9"/>
<line x1="336.83" y1="678.0" x2="336.83" y2="684.2" stroke="#000" stroke-width="1.3"/>
<line x1="336.83" y1="453.4" x2="336.83" y2="447.2" stroke="#000" stroke-width="1.3"/>
<line x1="349.31" y1="678.0" x2="349.31" y2="680.8" stroke="#000" stroke-width="0.9"/>
<line x1="349.31" y1="453.4" x2="349.31" y2="450.59999999999997" stroke="#000" stroke-width="0.9"/>
<line x1="361.78" y1="678.0" x2="361.78" y2="680.8" stroke="#000" stroke-width="0.9"/>
<line x1="361.78" y1="453.4" x2="361.78" y2="450.59999999999997" stroke="#000" stroke-width="0.9"/>
<line x1="374.25" y1="678.0" x2="374.25" y2="684.2" stroke="#000" stroke-width="1.3"/>
<line x1="374.25" y1="453.4" x2="374.25" y2="447.2" stroke="#000" stroke-width="1.3"/>
<line x1="386.72" y1="678.0" x2="386.72" y2="680.8" stroke="#000" stroke-width="0.9"/>
<line x1="386.72" y1="453.4" x2="386.72" y2="450.59999999999997" stroke="#000" stroke-width="0.9"/>
<line x1="399.19" y1="678.0" x2="399.19" y2="680.8" stroke="#000" stroke-width="0.9"/>
<line x1="399.19" y1="453.4" x2="399.19" y2="450.59999999999997" stroke="#000" stroke-width="0.9"/>
<line x1="411.67" y1="678.0" x2="411.67" y2="684.2" stroke="#000" stroke-width="1.3"/>
<line x1="411.67" y1="453.4" x2="411.67" y2="447.2" stroke="#000" stroke-width="1.3"/>
<line x1="424.14" y1="678.0" x2="424.14" y2="680.8" stroke="#000" stroke-width="0.9"/>
<line x1="424.14" y1="453.4" x2="424.14" y2="450.59999999999997" stroke="#000" stroke-width="0.9"/>
<line x1="436.61" y1="678.0" x2="436.61" y2="680.8" stroke="#000" stroke-width="0.9"/>
<line x1="436.61" y1="453.4" x2="436.61" y2="450.59999999999997" stroke="#000" stroke-width="0.9"/>
<line x1="449.08" y1="678.0" x2="449.08" y2="684.2" stroke="#000" stroke-width="1.3"/>
<line x1="449.08" y1="453.4" x2="449.08" y2="447.2" stroke="#000" stroke-width="1.3"/>
<line x1="461.56" y1="678.0" x2="461.56" y2="680.8" stroke="#000" stroke-width="0.9"/>
<line x1="461.56" y1="453.4" x2="461.56" y2="450.59999999999997" stroke="#000" stroke-width="0.9"/>
<line x1="474.03" y1="678.0" x2="474.03" y2="680.8" stroke="#000" stroke-width="0.9"/>
<line x1="474.03" y1="453.4" x2="474.03" y2="450.59999999999997" stroke="#000" stroke-width="0.9"/>
<line x1="486.50" y1="678.0" x2="486.50" y2="684.2" stroke="#000" stroke-width="1.3"/>
<line x1="486.50" y1="453.4" x2="486.50" y2="447.2" stroke="#000" stroke-width="1.3"/>
<line x1="256.0" y1="453.40" x2="262.0" y2="453.40" stroke="#000" stroke-width="1.3"/>
<line x1="256.0" y1="485.49" x2="262.0" y2="485.49" stroke="#000" stroke-width="1.3"/>
<line x1="256.0" y1="517.57" x2="262.0" y2="517.57" stroke="#000" stroke-width="1.3"/>
<line x1="256.0" y1="581.74" x2="262.0" y2="581.74" stroke="#000" stroke-width="1.3"/>
<line x1="256.0" y1="629.87" x2="262.0" y2="629.87" stroke="#000" stroke-width="1.3"/>
<line x1="256.0" y1="678.00" x2="262.0" y2="678.00" stroke="#000" stroke-width="1.3"/>
<line x1="486.5" y1="470.80" x2="492.7" y2="470.80" stroke="#000" stroke-width="1.3"/>
<line x1="486.5" y1="555.20" x2="492.7" y2="555.20" stroke="#000" stroke-width="1.3"/>
<text x="250.4" y="456.8" font-size="9.7" text-anchor="end" fill="#000">300</text>
<text x="250.4" y="488.89" font-size="9.7" text-anchor="end" fill="#000">400</text>
<text x="250.4" y="520.97" font-size="9.7" text-anchor="end" fill="#000">500</text>
<text x="250.4" y="585.14" font-size="9.7" text-anchor="end" fill="#000">700</text>
<text x="250.4" y="633.27" font-size="9.7" text-anchor="end" fill="#000">850</text>
<text x="250.4" y="681.4" font-size="9.7" text-anchor="end" fill="#000">1000</text>
<text x="262.0" y="696.8" font-size="9.0" text-anchor="middle" fill="#000">90N</text>
<text x="299.42" y="696.8" font-size="9.0" text-anchor="middle" fill="#000">60N</text>
<text x="336.83" y="696.8" font-size="9.0" text-anchor="middle" fill="#000">30N</text>
<text x="374.25" y="696.8" font-size="9.0" text-anchor="middle" fill="#000">0</text>
<text x="411.67" y="696.8" font-size="9.0" text-anchor="middle" fill="#000">30S</text>
<text x="449.08" y="696.8" font-size="9.0" text-anchor="middle" fill="#000">60S</text>
<text x="486.5" y="696.8" font-size="9.0" text-anchor="middle" fill="#000">90S</text>
<text x="497.5" y="474.7" font-size="9.9" text-anchor="start" fill="#000">8</text>
<text x="497.5" y="558.5" font-size="9.9" text-anchor="start" fill="#000">4</text>
<text x="0" y="0" font-size="14.8" fill="#000" stroke="#fff" stroke-width="0.25" textLength="59.2" lengthAdjust="spacingAndGlyphs" transform="translate(220.60,616.10) rotate(-90)">Pressure</text>
<text x="0" y="0" font-size="14.8" fill="#000" stroke="#fff" stroke-width="0.25" textLength="31.4" lengthAdjust="spacingAndGlyphs" transform="translate(220.60,547.10) rotate(-90)">(mb)</text>
<text x="0" y="0" font-size="14.8" fill="#000" stroke="#fff" stroke-width="0.25" textLength="41.9" lengthAdjust="spacingAndGlyphs" transform="translate(520.80,607.20) rotate(-90)">Height</text>
<text x="0" y="0" font-size="14.8" fill="#000" stroke="#fff" stroke-width="0.25" textLength="30.5" lengthAdjust="spacingAndGlyphs" transform="translate(520.80,555.10) rotate(-90)">(km)</text>
<text x="289.6" y="422.5" font-size="14.5" text-anchor="start" fill="#000" textLength="65.0" lengthAdjust="spacingAndGlyphs" stroke="#fff" stroke-width="0.2">IcyNASOM</text>
<text x="363.3" y="422.5" font-size="14.5" text-anchor="start" fill="#000" textLength="9.0" lengthAdjust="spacingAndGlyphs" stroke="#fff" stroke-width="0.2">&#8722;</text>
<text x="381.2" y="422.5" font-size="14.5" text-anchor="start" fill="#000" textLength="77.4" lengthAdjust="spacingAndGlyphs" stroke="#fff" stroke-width="0.2">ControlSOM</text>
<text x="511" y="476.3" font-size="11.6" text-anchor="start" fill="#000" textLength="18.3" lengthAdjust="spacingAndGlyphs">MIN</text>
<text x="535.8" y="476.3" font-size="11.6" text-anchor="start" fill="#000" textLength="7.5" lengthAdjust="spacingAndGlyphs">=</text>
<text x="556.8" y="476.3" font-size="11.6" text-anchor="start" fill="#000" textLength="32.5" lengthAdjust="spacingAndGlyphs">&#8722;0.02</text>
<text x="602" y="476.3" font-size="11.6" text-anchor="start" fill="#000" textLength="20.4" lengthAdjust="spacingAndGlyphs">MAX</text>
<text x="630.6" y="476.3" font-size="11.6" text-anchor="start" fill="#000" textLength="7.5" lengthAdjust="spacingAndGlyphs">=</text>
<text x="655.7" y="476.3" font-size="11.6" text-anchor="start" fill="#000" textLength="23.5" lengthAdjust="spacingAndGlyphs">0.01</text>
<rect x="562.7" y="495.00" width="30.5" height="11.29" fill="#870000"/>
<rect x="562.7" y="506.29" width="30.5" height="11.29" fill="#b92300"/>
<rect x="562.7" y="517.58" width="30.5" height="11.29" fill="#e13200"/>
<rect x="562.7" y="528.86" width="30.5" height="11.29" fill="#ff5020"/>
<rect x="562.7" y="540.15" width="30.5" height="11.29" fill="#ff7846"/>
<rect x="562.7" y="551.44" width="30.5" height="11.29" fill="#ffa582"/>
<rect x="562.7" y="562.73" width="30.5" height="11.29" fill="#ffcdb4"/>
<rect x="562.7" y="574.01" width="30.5" height="11.29" fill="#ffe8d7"/>
<rect x="562.7" y="585.30" width="30.5" height="11.29" fill="#d7e8ff"/>
<rect x="562.7" y="596.59" width="30.5" height="11.29" fill="#b4c8ff"/>
<rect x="562.7" y="607.88" width="30.5" height="11.29" fill="#82a5ff"/>
<rect x="562.7" y="619.16" width="30.5" height="11.29" fill="#4678ff"/>
<rect x="562.7" y="630.45" width="30.5" height="11.29" fill="#1e55ff"/>
<rect x="562.7" y="641.74" width="30.5" height="11.29" fill="#0032e0"/>
<rect x="562.7" y="653.02" width="30.5" height="11.29" fill="#0020b4"/>
<rect x="562.7" y="664.31" width="30.5" height="11.29" fill="#000082"/>
<line x1="562.7" y1="495.00" x2="593.2" y2="495.00" stroke="#222" stroke-width="0.9"/>
<line x1="562.7" y1="506.29" x2="593.2" y2="506.29" stroke="#222" stroke-width="0.9"/>
<line x1="562.7" y1="517.58" x2="593.2" y2="517.58" stroke="#222" stroke-width="0.9"/>
<line x1="562.7" y1="528.86" x2="593.2" y2="528.86" stroke="#222" stroke-width="0.9"/>
<line x1="562.7" y1="540.15" x2="593.2" y2="540.15" stroke="#222" stroke-width="0.9"/>
<line x1="562.7" y1="551.44" x2="593.2" y2="551.44" stroke="#222" stroke-width="0.9"/>
<line x1="562.7" y1="562.73" x2="593.2" y2="562.73" stroke="#222" stroke-width="0.9"/>
<line x1="562.7" y1="574.01" x2="593.2" y2="574.01" stroke="#222" stroke-width="0.9"/>
<line x1="562.7" y1="585.30" x2="593.2" y2="585.30" stroke="#222" stroke-width="0.9"/>
<line x1="562.7" y1="596.59" x2="593.2" y2="596.59" stroke="#222" stroke-width="0.9"/>
<line x1="562.7" y1="607.88" x2="593.2" y2="607.88" stroke="#222" stroke-width="0.9"/>
<line x1="562.7" y1="619.16" x2="593.2" y2="619.16" stroke="#222" stroke-width="0.9"/>
<line x1="562.7" y1="630.45" x2="593.2" y2="630.45" stroke="#222" stroke-width="0.9"/>
<line x1="562.7" y1="641.74" x2="593.2" y2="641.74" stroke="#222" stroke-width="0.9"/>
<line x1="562.7" y1="653.02" x2="593.2" y2="653.02" stroke="#222" stroke-width="0.9"/>
<line x1="562.7" y1="664.31" x2="593.2" y2="664.31" stroke="#222" stroke-width="0.9"/>
<line x1="562.7" y1="675.60" x2="593.2" y2="675.60" stroke="#222" stroke-width="0.9"/>
<rect x="562.7" y="495" width="30.5" height="180.6" fill="none" stroke="#222" stroke-width="0.9"/>
<text x="611.4" y="509.99" font-size="10.2" text-anchor="middle" fill="#000" textLength="22.8" lengthAdjust="spacing">0.12</text>
<text x="611.4" y="521.28" font-size="10.2" text-anchor="middle" fill="#000" textLength="14.6" lengthAdjust="spacing">0.1</text>
<text x="611.4" y="532.56" font-size="10.2" text-anchor="middle" fill="#000" textLength="22.8" lengthAdjust="spacing">0.08</text>
<text x="611.4" y="543.85" font-size="10.2" text-anchor="middle" fill="#000" textLength="22.8" lengthAdjust="spacing">0.06</text>
<text x="611.4" y="555.14" font-size="10.2" text-anchor="middle" fill="#000" textLength="22.8" lengthAdjust="spacing">0.04</text>
<text x="611.4" y="566.43" font-size="10.2" text-anchor="middle" fill="#000" textLength="22.8" lengthAdjust="spacing">0.02</text>
<text x="611.4" y="577.71" font-size="10.2" text-anchor="middle" fill="#000" textLength="22.8" lengthAdjust="spacing">0.01</text>
<text x="611.4" y="589.0" font-size="10.2" text-anchor="middle" fill="#000" textLength="6.6" lengthAdjust="spacing">0</text>
<text x="611.4" y="600.29" font-size="10.2" text-anchor="middle" fill="#000" textLength="29.2" lengthAdjust="spacing">&#8722;0.01</text>
<text x="611.4" y="611.58" font-size="10.2" text-anchor="middle" fill="#000" textLength="29.2" lengthAdjust="spacing">&#8722;0.02</text>
<text x="611.4" y="622.86" font-size="10.2" text-anchor="middle" fill="#000" textLength="29.2" lengthAdjust="spacing">&#8722;0.04</text>
<text x="611.4" y="634.15" font-size="10.2" text-anchor="middle" fill="#000" textLength="29.2" lengthAdjust="spacing">&#8722;0.06</text>
<text x="611.4" y="645.44" font-size="10.2" text-anchor="middle" fill="#000" textLength="29.2" lengthAdjust="spacing">&#8722;0.08</text>
<text x="611.4" y="656.73" font-size="10.2" text-anchor="middle" fill="#000" textLength="22.6" lengthAdjust="spacing">&#8722;0.1</text>
<text x="611.4" y="668.01" font-size="10.2" text-anchor="middle" fill="#000" textLength="29.2" lengthAdjust="spacing">&#8722;0.12</text>
</svg>
</body></html>
